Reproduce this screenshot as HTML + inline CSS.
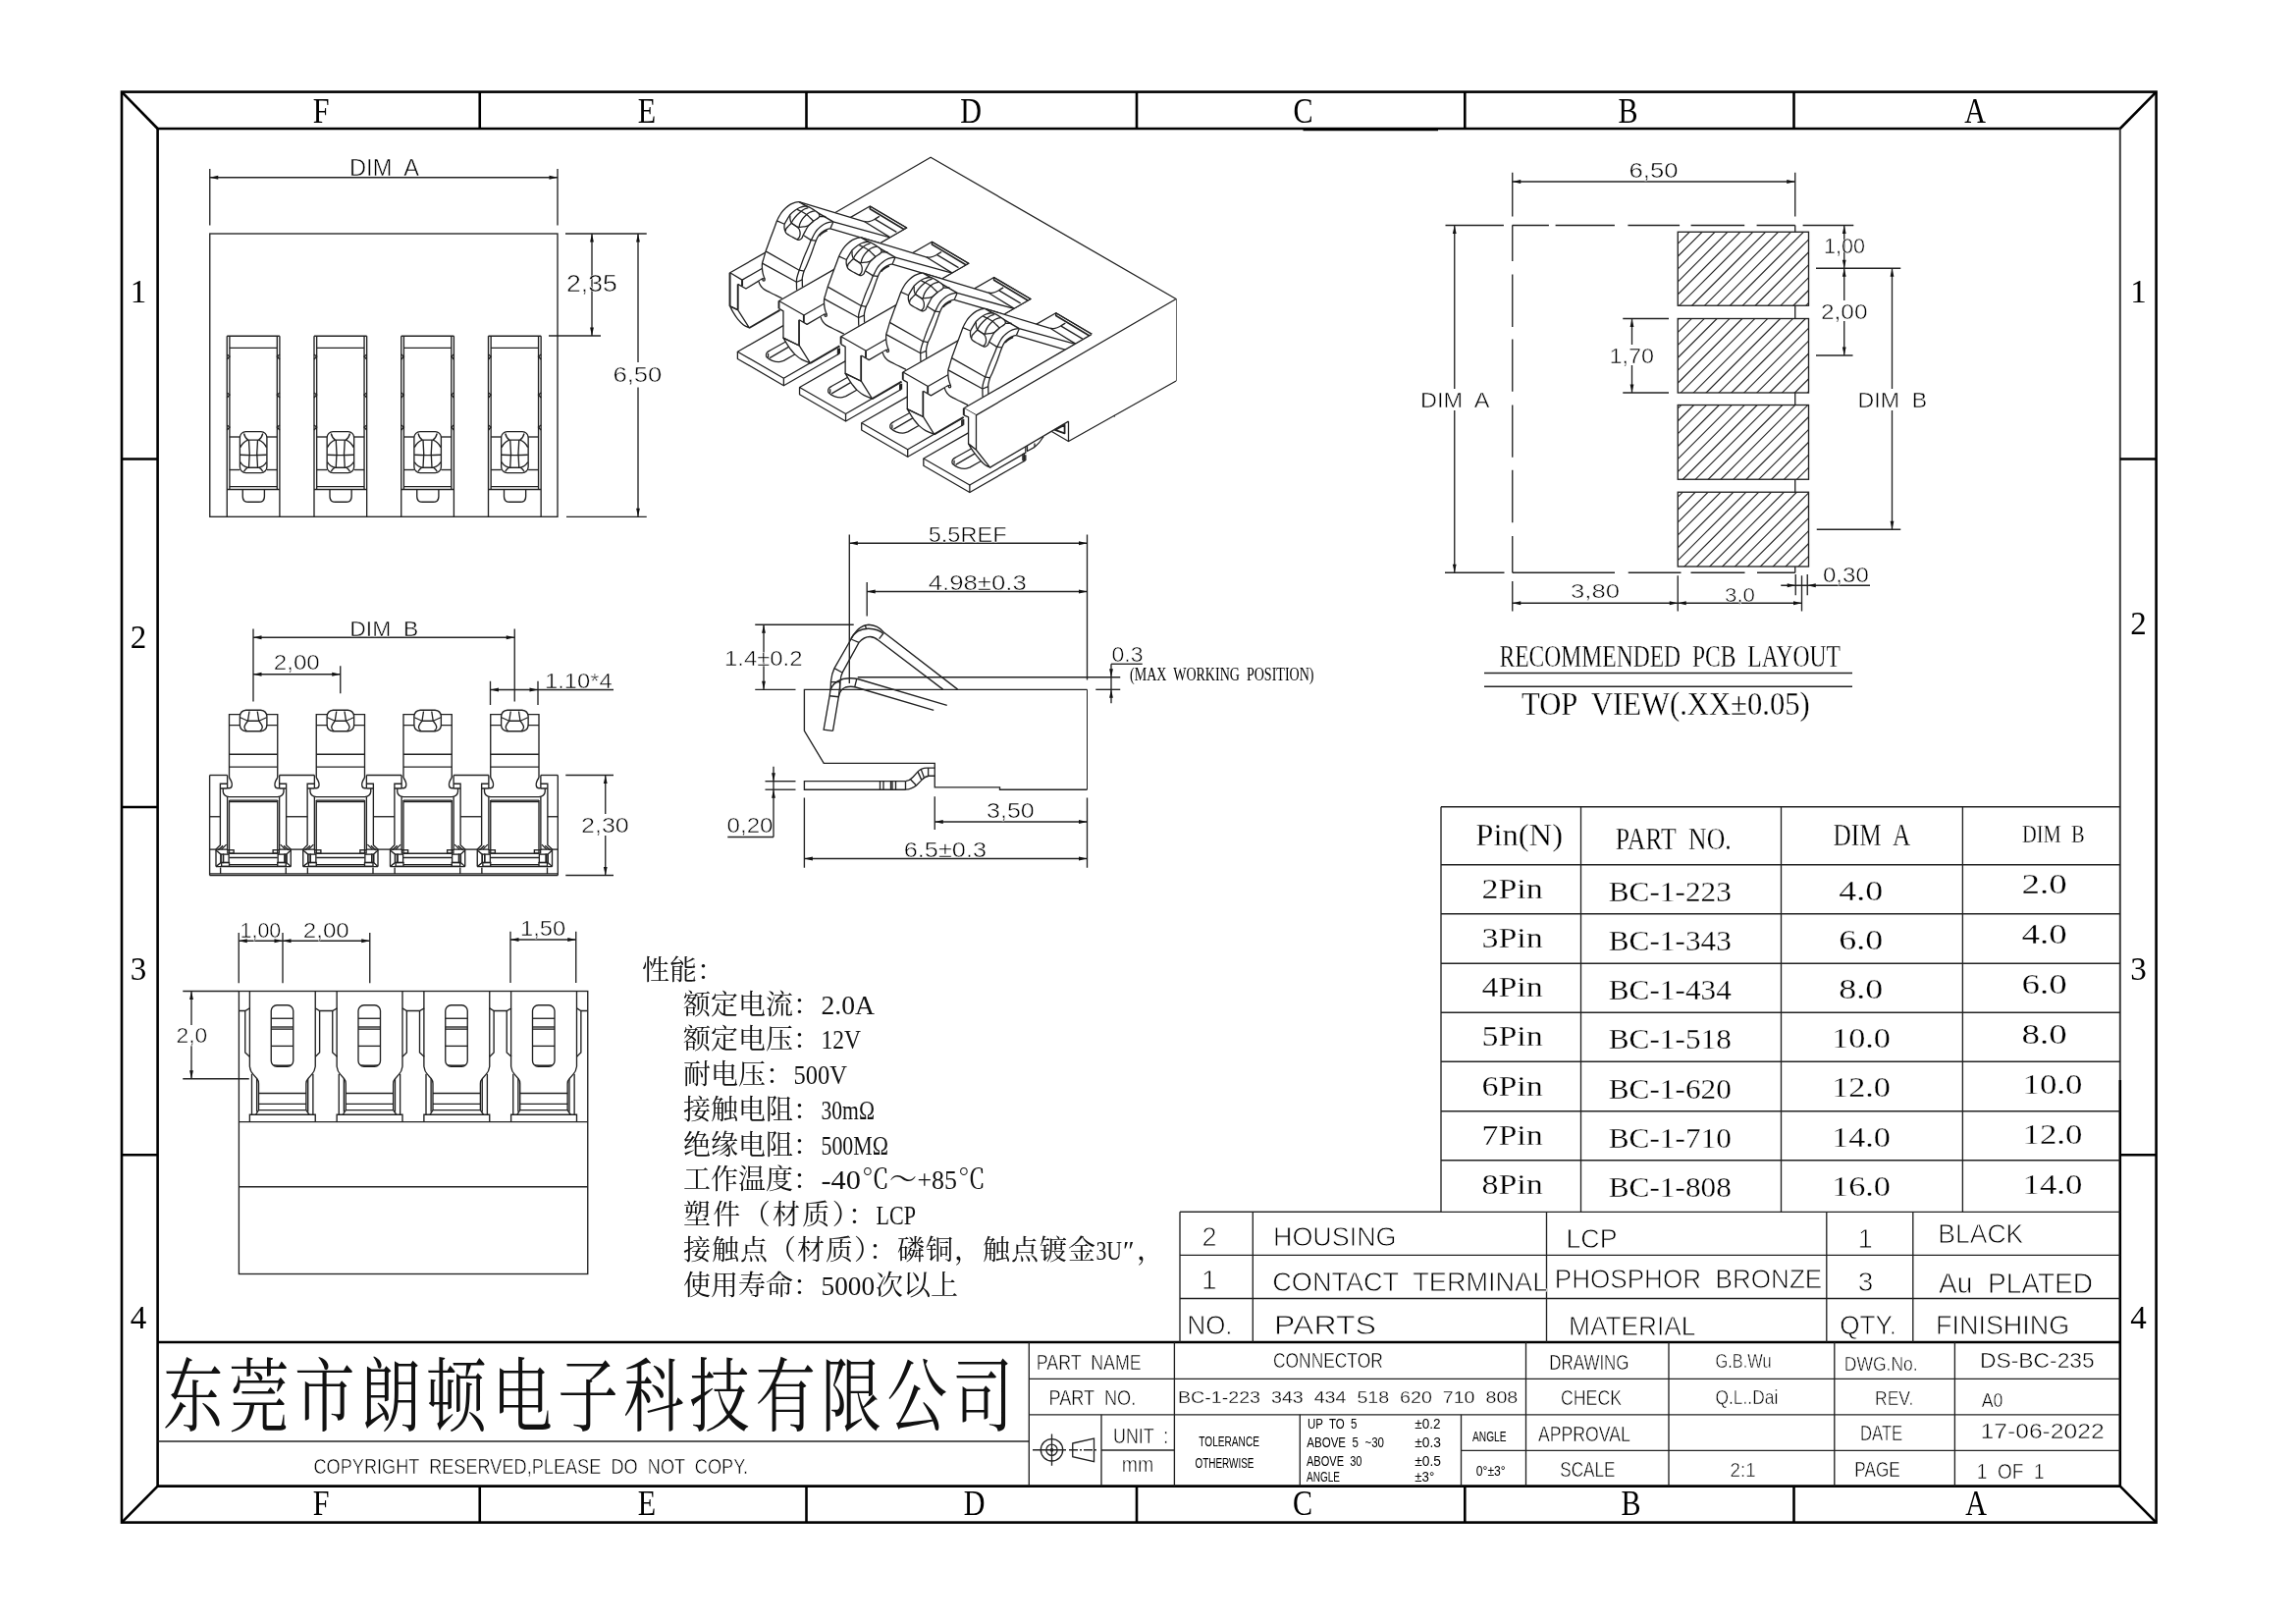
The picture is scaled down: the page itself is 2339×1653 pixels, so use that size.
<!DOCTYPE html>
<html><head><meta charset="utf-8"><title>BC-1 Battery Connector Drawing</title>
<style>
html,body{margin:0;padding:0;background:#fff}
svg{display:block;filter:grayscale(1)}
.s{word-spacing:.28em;font-family:"Liberation Sans","DejaVu Sans",sans-serif;fill:#000;stroke:#fff;stroke-width:.55px;paint-order:fill stroke}
.r{word-spacing:.25em;font-family:"Liberation Serif","Noto Serif CJK SC",serif;fill:#000;stroke:#fff;stroke-width:.3px;paint-order:fill stroke}
.c{font-family:"Liberation Serif","Noto Serif CJK SC",serif;fill:#111;stroke:none}
.f{font-family:"Liberation Serif","DejaVu Serif",serif;fill:#000;stroke:none}
.ar{fill:#111;stroke:none}
text{white-space:pre}
</style></head><body>
<svg width="2339" height="1653" viewBox="0 0 2339 1653" fill="none" stroke="#222" stroke-width="1.35" stroke-linecap="butt" stroke-linejoin="miter">
<rect x="0" y="0" width="2339" height="1653" fill="#fff" stroke="none"/>
<g stroke="#000" stroke-width="2.6">
<rect x="124" y="93.6" width="2072.6" height="1457"/>
<polyline points="2159.8,131 160.6,131 160.6,1513.6 2159.8,1513.6 2159.8,1100"/>
<line x1="2159.8" y1="131" x2="2159.8" y2="1100" stroke-width="2" stroke="#3a3a3a"/>
<line x1="124" y1="93.6" x2="160.6" y2="131"/>
<line x1="2196.6" y1="93.6" x2="2159.8" y2="131"/>
<line x1="124" y1="1550.6" x2="160.6" y2="1513.6"/>
<line x1="2196.6" y1="1550.6" x2="2159.8" y2="1513.6"/>
<line x1="488.75" y1="93.6" x2="488.75" y2="131"/>
<line x1="488.75" y1="1513.6" x2="488.75" y2="1550.6"/>
<line x1="821.5" y1="93.6" x2="821.5" y2="131"/>
<line x1="821.5" y1="1513.6" x2="821.5" y2="1550.6"/>
<line x1="1158" y1="93.6" x2="1158" y2="131"/>
<line x1="1158" y1="1513.6" x2="1158" y2="1550.6"/>
<line x1="1492.3" y1="93.6" x2="1492.3" y2="131"/>
<line x1="1492.3" y1="1513.6" x2="1492.3" y2="1550.6"/>
<line x1="1827.5" y1="93.6" x2="1827.5" y2="131"/>
<line x1="1827.5" y1="1513.6" x2="1827.5" y2="1550.6"/>
<line x1="124" y1="467.5" x2="160.6" y2="467.5"/>
<line x1="124" y1="822" x2="160.6" y2="822"/>
<line x1="124" y1="1176.3" x2="160.6" y2="1176.3"/>
<line x1="2159.8" y1="467.5" x2="2196.6" y2="467.5"/>
<line x1="2159.8" y1="1176.3" x2="2196.6" y2="1176.3"/>
<line x1="160.6" y1="1367" x2="2159.8" y2="1367"/>
<line x1="1327.5" y1="131.6" x2="1465" y2="131.6" stroke-width="3.2"/>
</g>
<text class="f" transform="translate(327 124.5) scale(.86 1)" font-size="35" text-anchor="middle">F</text>
<text class="f" transform="translate(327 1543) scale(.86 1)" font-size="35" text-anchor="middle">F</text>
<text class="f" transform="translate(659 124.5) scale(.86 1)" font-size="35" text-anchor="middle">E</text>
<text class="f" transform="translate(659 1543) scale(.86 1)" font-size="35" text-anchor="middle">E</text>
<text class="f" transform="translate(989 124.5) scale(.86 1)" font-size="35" text-anchor="middle">D</text>
<text class="f" transform="translate(992.5 1543) scale(.86 1)" font-size="35" text-anchor="middle">D</text>
<text class="f" transform="translate(1327.5 124.5) scale(.86 1)" font-size="35" text-anchor="middle">C</text>
<text class="f" transform="translate(1327 1543) scale(.86 1)" font-size="35" text-anchor="middle">C</text>
<text class="f" transform="translate(1658.5 124.5) scale(.86 1)" font-size="35" text-anchor="middle">B</text>
<text class="f" transform="translate(1661.5 1543) scale(.86 1)" font-size="35" text-anchor="middle">B</text>
<text class="f" transform="translate(2012 124.5) scale(.86 1)" font-size="35" text-anchor="middle">A</text>
<text class="f" transform="translate(2013 1543) scale(.86 1)" font-size="35" text-anchor="middle">A</text>
<text class="f" x="141" y="308" font-size="33" text-anchor="middle">1</text>
<text class="f" x="2178.5" y="308" font-size="33" text-anchor="middle">1</text>
<text class="f" x="141" y="659.5" font-size="33" text-anchor="middle">2</text>
<text class="f" x="2178.5" y="646" font-size="33" text-anchor="middle">2</text>
<text class="f" x="141" y="998" font-size="33" text-anchor="middle">3</text>
<text class="f" x="2178.5" y="998" font-size="33" text-anchor="middle">3</text>
<text class="f" x="141" y="1352.5" font-size="33" text-anchor="middle">4</text>
<text class="f" x="2178.5" y="1352.5" font-size="33" text-anchor="middle">4</text>
<text class="c" transform="translate(166,1450.5) scale(1,1.335)" x="0" y="0" font-size="61.5" textLength="866" lengthAdjust="spacing">东莞市朗顿电子科技有限公司</text>
<line x1="160.6" y1="1468" x2="1048.3" y2="1468"/>
<text class="s" x="319.5" y="1500.75" font-size="22.35" textLength="442.5" lengthAdjust="spacingAndGlyphs" style="stroke-width:0.5px">COPYRIGHT RESERVED,PLEASE DO NOT COPY.</text>
<line x1="1048.3" y1="1367" x2="1048.3" y2="1513.6"/>
<line x1="1196.4" y1="1367" x2="1196.4" y2="1513.6"/>
<line x1="1554.5" y1="1367" x2="1554.5" y2="1513.6"/>
<line x1="1700" y1="1367" x2="1700" y2="1513.6"/>
<line x1="1868.8" y1="1367" x2="1868.8" y2="1513.6"/>
<line x1="1991.4" y1="1367" x2="1991.4" y2="1513.6"/>
<line x1="1048.3" y1="1404.3" x2="2159.8" y2="1404.3"/>
<line x1="1048.3" y1="1440.8" x2="2159.8" y2="1440.8"/>
<line x1="1488.5" y1="1477.3" x2="2159.8" y2="1477.3"/>
<line x1="1122" y1="1440.8" x2="1122" y2="1513.6"/>
<line x1="1122" y1="1477" x2="1196.4" y2="1477"/>
<line x1="1324.3" y1="1440.8" x2="1324.3" y2="1513.6"/>
<line x1="1488.5" y1="1440.8" x2="1488.5" y2="1513.6"/>
<text class="s" x="1055.75" y="1395" font-size="22.63" textLength="107" lengthAdjust="spacingAndGlyphs" style="stroke-width:0.5px">PART NAME</text>
<text class="s" x="1068.5" y="1430.5" font-size="22.63" textLength="88.75" lengthAdjust="spacingAndGlyphs" style="stroke-width:0.5px">PART NO.</text>
<text class="s" x="1134" y="1470" font-size="22.63" textLength="56.25" lengthAdjust="spacingAndGlyphs" style="stroke-width:0.5px">UNIT :</text>
<text class="s" x="1142.75" y="1498.75" font-size="22.63" textLength="32.5" lengthAdjust="spacingAndGlyphs" style="stroke-width:0.5px">mm</text>
<circle cx="1071.5" cy="1476.75" r="11.2"/>
<circle cx="1071.5" cy="1476.75" r="5.6"/>
<circle cx="1071.5" cy="1476.75" r="1.2" fill="#222"/>
<line x1="1052" y1="1476.75" x2="1086" y2="1476.75"/>
<line x1="1071.5" y1="1460.5" x2="1071.5" y2="1492.8"/>
<polygon points="1092.75,1470 1114.5,1465 1114.5,1488.75 1092.75,1483.75"/>
<line x1="1089" y1="1476.75" x2="1118" y2="1476.75" stroke-dasharray="9 2 2 2"/>
<text class="s" x="1297" y="1393.25" font-size="22.07" textLength="111.75" lengthAdjust="spacingAndGlyphs" style="stroke-width:0.5px">CONNECTOR</text>
<text class="s" x="1200" y="1429.25" font-size="17.18" textLength="346.25" lengthAdjust="spacingAndGlyphs" style="stroke-width:0.3px">BC-1-223 343 434 518 620 710 808</text>
<text class="s" x="1221.25" y="1473" font-size="14.66" textLength="61.75" lengthAdjust="spacingAndGlyphs" style="stroke:none">TOLERANCE</text>
<text class="s" x="1217.5" y="1495" font-size="14.66" textLength="60" lengthAdjust="spacingAndGlyphs" style="stroke:none">OTHERWISE</text>
<text class="s" x="1332" y="1455" font-size="14.66" textLength="50.5" lengthAdjust="spacingAndGlyphs" style="stroke:none">UP TO 5</text>
<text class="s" x="1331.25" y="1473.75" font-size="14.66" textLength="78.75" lengthAdjust="spacingAndGlyphs" style="stroke:none">ABOVE 5 ~30</text>
<text class="s" x="1331" y="1492.5" font-size="14.66" textLength="56.5" lengthAdjust="spacingAndGlyphs" style="stroke:none">ABOVE 30</text>
<text class="s" x="1331" y="1508.75" font-size="14.66" textLength="34" lengthAdjust="spacingAndGlyphs" style="stroke:none">ANGLE</text>
<text class="s" x="1441.25" y="1455" font-size="14.66" textLength="26.25" lengthAdjust="spacingAndGlyphs" style="stroke:none">±0.2</text>
<text class="s" x="1441.25" y="1473.75" font-size="14.66" textLength="26.75" lengthAdjust="spacingAndGlyphs" style="stroke:none">±0.3</text>
<text class="s" x="1441.25" y="1492.5" font-size="14.66" textLength="26.75" lengthAdjust="spacingAndGlyphs" style="stroke:none">±0.5</text>
<text class="s" x="1441.25" y="1508.75" font-size="14.66" textLength="20" lengthAdjust="spacingAndGlyphs" style="stroke:none">±3°</text>
<text class="s" x="1500" y="1468.25" font-size="14.39" textLength="34.5" lengthAdjust="spacingAndGlyphs" style="stroke:none">ANGLE</text>
<text class="s" x="1503.75" y="1502.5" font-size="14.66" textLength="30" lengthAdjust="spacingAndGlyphs" style="stroke:none">0°±3°</text>
<text class="s" x="1578.25" y="1395" font-size="22.63" textLength="81.25" lengthAdjust="spacingAndGlyphs" style="stroke-width:0.5px">DRAWING</text>
<text class="s" x="1590" y="1431.25" font-size="22.07" textLength="62" lengthAdjust="spacingAndGlyphs" style="stroke-width:0.5px">CHECK</text>
<text class="s" x="1567" y="1467.5" font-size="22.63" textLength="93.75" lengthAdjust="spacingAndGlyphs" style="stroke-width:0.5px">APPROVAL</text>
<text class="s" x="1589.25" y="1504.25" font-size="22.63" textLength="56.25" lengthAdjust="spacingAndGlyphs" style="stroke-width:0.5px">SCALE</text>
<text class="s" x="1747.5" y="1393.25" font-size="20.25" textLength="57" lengthAdjust="spacingAndGlyphs" style="stroke-width:0.5px">G.B.Wu</text>
<text class="s" x="1747.5" y="1429.5" font-size="20.25" textLength="63.75" lengthAdjust="spacingAndGlyphs" style="stroke-width:0.5px">Q.L..Dai</text>
<text class="s" x="1762.5" y="1503.75" font-size="20.95" textLength="26.25" lengthAdjust="spacingAndGlyphs" style="stroke-width:0.5px">2:1</text>
<text class="s" x="1878.75" y="1396.25" font-size="20.95" textLength="75" lengthAdjust="spacingAndGlyphs" style="stroke-width:0.5px">DWG.No.</text>
<text class="s" x="1910" y="1431.25" font-size="20.95" textLength="39.25" lengthAdjust="spacingAndGlyphs" style="stroke-width:0.5px">REV.</text>
<text class="s" x="1895" y="1467" font-size="21.93" textLength="43.25" lengthAdjust="spacingAndGlyphs" style="stroke-width:0.5px">DATE</text>
<text class="s" x="1889.25" y="1503.75" font-size="21.93" textLength="46.5" lengthAdjust="spacingAndGlyphs" style="stroke-width:0.5px">PAGE</text>
<text class="s" x="2017" y="1393.25" font-size="21.93" textLength="116.75" lengthAdjust="spacingAndGlyphs" style="stroke-width:0.5px">DS-BC-235</text>
<text class="s" x="2018.75" y="1432.5" font-size="20.95" textLength="21.75" lengthAdjust="spacingAndGlyphs" style="stroke-width:0.5px">A0</text>
<text class="s" x="2017.5" y="1465" font-size="21.65" textLength="126.25" lengthAdjust="spacingAndGlyphs" style="stroke-width:0.5px">17-06-2022</text>
<text class="s" x="2013.75" y="1506.25" font-size="21.93" textLength="68.75" lengthAdjust="spacingAndGlyphs" style="stroke-width:0.5px">1 OF 1</text>
<line x1="1202" y1="1234.3" x2="1202" y2="1367"/>
<line x1="1276.3" y1="1234.3" x2="1276.3" y2="1367"/>
<line x1="1575.5" y1="1234.3" x2="1575.5" y2="1367"/>
<line x1="1860.8" y1="1234.3" x2="1860.8" y2="1367"/>
<line x1="1948.8" y1="1234.3" x2="1948.8" y2="1367"/>
<line x1="1202" y1="1234.3" x2="2159.8" y2="1234.3"/>
<line x1="1202" y1="1278.3" x2="2159.8" y2="1278.3"/>
<line x1="1202" y1="1322.5" x2="2159.8" y2="1322.5"/>
<text class="s" x="1232.12" y="1269.25" font-size="26.96" text-anchor="middle" style="stroke-width:0.8px">2</text>
<text class="s" x="1297" y="1269.25" font-size="26.96" textLength="125.5" lengthAdjust="spacingAndGlyphs" style="stroke-width:0.8px">HOUSING</text>
<text class="s" x="1595.5" y="1271.25" font-size="27.93" textLength="52" lengthAdjust="spacingAndGlyphs" style="stroke-width:0.8px">LCP</text>
<text class="s" x="1231.75" y="1313.25" font-size="27.93" text-anchor="middle" style="stroke-width:0.8px">1</text>
<text class="s" x="1296.25" y="1315" font-size="27.93" textLength="280" lengthAdjust="spacingAndGlyphs" style="stroke-width:0.8px">CONTACT TERMINAL</text>
<text class="s" x="1583.75" y="1311.5" font-size="26.96" textLength="272.5" lengthAdjust="spacingAndGlyphs" style="stroke-width:0.8px">PHOSPHOR BRONZE</text>
<text class="s" x="1209.5" y="1358.75" font-size="27.93" textLength="46" lengthAdjust="spacingAndGlyphs" style="stroke-width:0.8px">NO.</text>
<text class="s" x="1298" y="1358.75" font-size="27.93" textLength="104" lengthAdjust="spacingAndGlyphs" style="stroke-width:0.8px">PARTS</text>
<text class="s" x="1598" y="1360" font-size="27.93" textLength="129.5" lengthAdjust="spacingAndGlyphs" style="stroke-width:0.8px">MATERIAL</text>
<text class="s" x="1900.25" y="1270.5" font-size="26.96" text-anchor="middle" style="stroke-width:0.8px">1</text>
<text class="s" x="1974.25" y="1266.25" font-size="26.96" textLength="87" lengthAdjust="spacingAndGlyphs" style="stroke-width:0.8px">BLACK</text>
<text class="s" x="1900.62" y="1315" font-size="27.93" text-anchor="middle" style="stroke-width:0.8px">3</text>
<text class="s" x="1975" y="1316.75" font-size="28.63" textLength="157" lengthAdjust="spacingAndGlyphs" style="stroke-width:0.8px">Au PLATED</text>
<text class="s" x="1874.25" y="1358.75" font-size="27.93" textLength="57.75" lengthAdjust="spacingAndGlyphs" style="stroke-width:0.8px">QTY.</text>
<text class="s" x="1972" y="1358.75" font-size="27.93" textLength="136.25" lengthAdjust="spacingAndGlyphs" style="stroke-width:0.8px">FINISHING</text>
<line x1="1468" y1="821.75" x2="1468" y2="1234.3"/>
<line x1="1610.5" y1="821.75" x2="1610.5" y2="1234.3"/>
<line x1="1814.5" y1="821.75" x2="1814.5" y2="1234.3"/>
<line x1="1999.4" y1="821.75" x2="1999.4" y2="1234.3"/>
<line x1="1468" y1="821.75" x2="2159.8" y2="821.75"/>
<line x1="1468" y1="880.75" x2="2159.8" y2="880.75"/>
<line x1="1468" y1="930.75" x2="2159.8" y2="930.75"/>
<line x1="1468" y1="981.25" x2="2159.8" y2="981.25"/>
<line x1="1468" y1="1031.25" x2="2159.8" y2="1031.25"/>
<line x1="1468" y1="1081.25" x2="2159.8" y2="1081.25"/>
<line x1="1468" y1="1131.75" x2="2159.8" y2="1131.75"/>
<line x1="1468" y1="1181.75" x2="2159.8" y2="1181.75"/>
<line x1="1468" y1="1234.3" x2="1202" y2="1234.3"/>
<text class="r" x="1503.25" y="860.75" font-size="30.53" textLength="88.75" lengthAdjust="spacingAndGlyphs" style="stroke-width:0.3px">Pin(N)</text>
<text class="r" x="1645.75" y="865" font-size="30.53" textLength="118" lengthAdjust="spacingAndGlyphs" style="stroke-width:0.3px">PART NO.</text>
<text class="r" x="1867.5" y="860.75" font-size="30.53" textLength="78.75" lengthAdjust="spacingAndGlyphs" style="stroke-width:0.3px">DIM A</text>
<text class="r" x="2060" y="857.5" font-size="24.89" textLength="63.75" lengthAdjust="spacingAndGlyphs" style="stroke-width:0.3px">DIM B</text>
<text class="r" x="1509.5" y="914.5" font-size="30.08" textLength="62.25" lengthAdjust="spacingAndGlyphs" style="stroke-width:0.3px">2Pin</text>
<text class="r" x="1638.75" y="917.5" font-size="30.08" textLength="125" lengthAdjust="spacingAndGlyphs" style="stroke-width:0.3px">BC-1-223</text>
<text class="r" x="1873.25" y="916.5" font-size="30.08" textLength="45" lengthAdjust="spacingAndGlyphs" style="stroke-width:0.3px">4.0</text>
<text class="r" x="2059.5" y="910" font-size="30.08" textLength="46.25" lengthAdjust="spacingAndGlyphs" style="stroke-width:0.3px">2.0</text>
<text class="r" x="1509.5" y="964.75" font-size="30.08" textLength="62.25" lengthAdjust="spacingAndGlyphs" style="stroke-width:0.3px">3Pin</text>
<text class="r" x="1638.75" y="967.75" font-size="30.08" textLength="125" lengthAdjust="spacingAndGlyphs" style="stroke-width:0.3px">BC-1-343</text>
<text class="r" x="1873.25" y="966.7" font-size="30.08" textLength="45" lengthAdjust="spacingAndGlyphs" style="stroke-width:0.3px">6.0</text>
<text class="r" x="2059.5" y="961.05" font-size="30.08" textLength="46.25" lengthAdjust="spacingAndGlyphs" style="stroke-width:0.3px">4.0</text>
<text class="r" x="1509.5" y="1015" font-size="30.08" textLength="62.25" lengthAdjust="spacingAndGlyphs" style="stroke-width:0.3px">4Pin</text>
<text class="r" x="1638.75" y="1018" font-size="30.08" textLength="125" lengthAdjust="spacingAndGlyphs" style="stroke-width:0.3px">BC-1-434</text>
<text class="r" x="1873.25" y="1016.9" font-size="30.08" textLength="45" lengthAdjust="spacingAndGlyphs" style="stroke-width:0.3px">8.0</text>
<text class="r" x="2059.5" y="1012.1" font-size="30.08" textLength="46.25" lengthAdjust="spacingAndGlyphs" style="stroke-width:0.3px">6.0</text>
<text class="r" x="1509.5" y="1065.25" font-size="30.08" textLength="62.25" lengthAdjust="spacingAndGlyphs" style="stroke-width:0.3px">5Pin</text>
<text class="r" x="1638.75" y="1068.25" font-size="30.08" textLength="125" lengthAdjust="spacingAndGlyphs" style="stroke-width:0.3px">BC-1-518</text>
<text class="r" x="1866" y="1067.1" font-size="30.08" textLength="60" lengthAdjust="spacingAndGlyphs" style="stroke-width:0.3px">10.0</text>
<text class="r" x="2059.5" y="1063.15" font-size="30.08" textLength="46.25" lengthAdjust="spacingAndGlyphs" style="stroke-width:0.3px">8.0</text>
<text class="r" x="1509.5" y="1115.5" font-size="30.08" textLength="62.25" lengthAdjust="spacingAndGlyphs" style="stroke-width:0.3px">6Pin</text>
<text class="r" x="1638.75" y="1118.5" font-size="30.08" textLength="125" lengthAdjust="spacingAndGlyphs" style="stroke-width:0.3px">BC-1-620</text>
<text class="r" x="1866" y="1117.3" font-size="30.08" textLength="60" lengthAdjust="spacingAndGlyphs" style="stroke-width:0.3px">12.0</text>
<text class="r" x="2060.5" y="1114.2" font-size="30.08" textLength="61" lengthAdjust="spacingAndGlyphs" style="stroke-width:0.3px">10.0</text>
<text class="r" x="1509.5" y="1165.75" font-size="30.08" textLength="62.25" lengthAdjust="spacingAndGlyphs" style="stroke-width:0.3px">7Pin</text>
<text class="r" x="1638.75" y="1168.75" font-size="30.08" textLength="125" lengthAdjust="spacingAndGlyphs" style="stroke-width:0.3px">BC-1-710</text>
<text class="r" x="1866" y="1167.5" font-size="30.08" textLength="60" lengthAdjust="spacingAndGlyphs" style="stroke-width:0.3px">14.0</text>
<text class="r" x="2060.5" y="1165.25" font-size="30.08" textLength="61" lengthAdjust="spacingAndGlyphs" style="stroke-width:0.3px">12.0</text>
<text class="r" x="1509.5" y="1216" font-size="30.08" textLength="62.25" lengthAdjust="spacingAndGlyphs" style="stroke-width:0.3px">8Pin</text>
<text class="r" x="1638.75" y="1219" font-size="30.08" textLength="125" lengthAdjust="spacingAndGlyphs" style="stroke-width:0.3px">BC-1-808</text>
<text class="r" x="1866" y="1217.7" font-size="30.08" textLength="60" lengthAdjust="spacingAndGlyphs" style="stroke-width:0.3px">16.0</text>
<text class="r" x="2060.5" y="1216.3" font-size="30.08" textLength="61" lengthAdjust="spacingAndGlyphs" style="stroke-width:0.3px">14.0</text>
<text class="c" x="654" y="997.5" font-size="28" textLength="84" lengthAdjust="spacing">性能：</text>
<text class="c" x="696" y="1032.5" font-size="28" textLength="140" lengthAdjust="spacing">额定电流：</text>
<text class="c" x="836.5" y="1032.5" font-size="28" textLength="54.5" lengthAdjust="spacingAndGlyphs">2.0A</text>
<text class="c" x="696" y="1068.25" font-size="28" textLength="140" lengthAdjust="spacing">额定电压：</text>
<text class="c" x="836.5" y="1068.25" font-size="28" textLength="40.5" lengthAdjust="spacingAndGlyphs">12V</text>
<text class="c" x="696" y="1104" font-size="28" textLength="112" lengthAdjust="spacing">耐电压：</text>
<text class="c" x="808.5" y="1104" font-size="28" textLength="54.5" lengthAdjust="spacingAndGlyphs">500V</text>
<text class="c" x="696" y="1139.75" font-size="28" textLength="140" lengthAdjust="spacing">接触电阻：</text>
<text class="c" x="836.5" y="1139.75" font-size="28" textLength="54.5" lengthAdjust="spacingAndGlyphs">30mΩ</text>
<text class="c" x="696" y="1175.5" font-size="28" textLength="140" lengthAdjust="spacing">绝缘电阻：</text>
<text class="c" x="836.5" y="1175.5" font-size="28" textLength="68.5" lengthAdjust="spacingAndGlyphs">500MΩ</text>
<text class="c" x="696" y="1211.25" font-size="28" textLength="140" lengthAdjust="spacing">工作温度：</text>
<text class="c" x="836.5" y="1211.25" font-size="28" textLength="40.5" lengthAdjust="spacingAndGlyphs">-40</text>
<text class="c" x="878" y="1211.25" font-size="28" textLength="56" lengthAdjust="spacing">℃～</text>
<text class="c" x="934.5" y="1211.25" font-size="28" textLength="40.5" lengthAdjust="spacingAndGlyphs">+85</text>
<text class="c" x="976" y="1211.25" font-size="28" textLength="28" lengthAdjust="spacing">℃</text>
<text class="c" x="696" y="1247" font-size="28" textLength="196" lengthAdjust="spacing">塑件（材质）：</text>
<text class="c" x="892.5" y="1247" font-size="28" textLength="40.5" lengthAdjust="spacingAndGlyphs">LCP</text>
<text class="c" x="696" y="1282.75" font-size="28" textLength="420" lengthAdjust="spacing">接触点（材质）：磷铜，触点镀金</text>
<text class="c" x="1116.5" y="1282.75" font-size="28" textLength="26.5" lengthAdjust="spacingAndGlyphs">3U</text>
<text class="c" x="1144" y="1282.75" font-size="28" textLength="42" lengthAdjust="spacing">″，</text>
<text class="c" x="696" y="1318.5" font-size="28" textLength="140" lengthAdjust="spacing">使用寿命：</text>
<text class="c" x="836.5" y="1318.5" font-size="28" textLength="54.5" lengthAdjust="spacingAndGlyphs">5000</text>
<text class="c" x="892" y="1318.5" font-size="28" textLength="84" lengthAdjust="spacing">次以上</text>
<rect x="213.75" y="238" width="354.25" height="288.3"/>
<g transform="translate(0 0)">
<line x1="231.25" y1="342.2" x2="231.25" y2="526.3"/>
<line x1="284.9" y1="342.2" x2="284.9" y2="526.3"/>
<line x1="233.9" y1="342.2" x2="233.9" y2="498.5"/>
<line x1="282.3" y1="342.2" x2="282.3" y2="498.5"/>
<line x1="231.25" y1="342.2" x2="284.9" y2="342.2"/>
<line x1="233.9" y1="354.4" x2="282.3" y2="354.4"/>
<polyline points="231.25,361 233.9,363 231.25,366"/>
<polyline points="284.9,361 282.3,363 284.9,366"/>
<polyline points="231.25,400 233.9,402 231.25,405"/>
<polyline points="284.9,400 282.3,402 284.9,405"/>
<polyline points="231.25,433 233.9,435 231.25,438"/>
<polyline points="284.9,433 282.3,435 284.9,438"/>
<line x1="233.9" y1="445" x2="244.4" y2="445"/>
<line x1="271.9" y1="445" x2="282.3" y2="445"/>
<line x1="233.9" y1="478.5" x2="244.4" y2="478.5"/>
<line x1="271.9" y1="478.5" x2="282.3" y2="478.5"/>
<rect x="244.4" y="439.6" width="27.5" height="42" rx="6"/>
<path d="M248.5 441.5 Q249.75 446.25 252.75 448.12 L263.5 448.12 Q266.5 446.25 267.75 441.5"/>
<path d="M248.5 480.25 Q249.75 477.75 252.25 476.25 L264 476.25 Q266.5 477.75 267.75 480.25"/>
<path d="M244.75 463.25 Q258.12 464 271.5 463.25"/>
<path d="M253.5 448.12 Q255 462.5 253.5 476.25"/>
<path d="M262.5 448.12 Q261 462.5 262.5 476.25"/>
<path d="M244.75 455.62 Q247.5 450 252.75 448.12"/>
<path d="M271.5 455.62 Q268.75 450 263.5 448.12"/>
<path d="M244.75 470.62 Q247.5 475 252.25 476.25"/>
<path d="M271.5 470.62 Q268.75 475 264 476.25"/>
<line x1="233.9" y1="495.6" x2="282.3" y2="495.6"/>
<line x1="231.25" y1="498.5" x2="284.9" y2="498.5"/>
<path d="M247.25 498.5 V505.7 Q247.25 511.25 252.8 511.25 H263.9 Q269.4 511.25 269.4 505.7 V498.5"/>
</g>
<g transform="translate(88.75 0)">
<line x1="231.25" y1="342.2" x2="231.25" y2="526.3"/>
<line x1="284.9" y1="342.2" x2="284.9" y2="526.3"/>
<line x1="233.9" y1="342.2" x2="233.9" y2="498.5"/>
<line x1="282.3" y1="342.2" x2="282.3" y2="498.5"/>
<line x1="231.25" y1="342.2" x2="284.9" y2="342.2"/>
<line x1="233.9" y1="354.4" x2="282.3" y2="354.4"/>
<polyline points="231.25,361 233.9,363 231.25,366"/>
<polyline points="284.9,361 282.3,363 284.9,366"/>
<polyline points="231.25,400 233.9,402 231.25,405"/>
<polyline points="284.9,400 282.3,402 284.9,405"/>
<polyline points="231.25,433 233.9,435 231.25,438"/>
<polyline points="284.9,433 282.3,435 284.9,438"/>
<line x1="233.9" y1="445" x2="244.4" y2="445"/>
<line x1="271.9" y1="445" x2="282.3" y2="445"/>
<line x1="233.9" y1="478.5" x2="244.4" y2="478.5"/>
<line x1="271.9" y1="478.5" x2="282.3" y2="478.5"/>
<rect x="244.4" y="439.6" width="27.5" height="42" rx="6"/>
<path d="M248.5 441.5 Q249.75 446.25 252.75 448.12 L263.5 448.12 Q266.5 446.25 267.75 441.5"/>
<path d="M248.5 480.25 Q249.75 477.75 252.25 476.25 L264 476.25 Q266.5 477.75 267.75 480.25"/>
<path d="M244.75 463.25 Q258.12 464 271.5 463.25"/>
<path d="M253.5 448.12 Q255 462.5 253.5 476.25"/>
<path d="M262.5 448.12 Q261 462.5 262.5 476.25"/>
<path d="M244.75 455.62 Q247.5 450 252.75 448.12"/>
<path d="M271.5 455.62 Q268.75 450 263.5 448.12"/>
<path d="M244.75 470.62 Q247.5 475 252.25 476.25"/>
<path d="M271.5 470.62 Q268.75 475 264 476.25"/>
<line x1="233.9" y1="495.6" x2="282.3" y2="495.6"/>
<line x1="231.25" y1="498.5" x2="284.9" y2="498.5"/>
<path d="M247.25 498.5 V505.7 Q247.25 511.25 252.8 511.25 H263.9 Q269.4 511.25 269.4 505.7 V498.5"/>
</g>
<g transform="translate(177.5 0)">
<line x1="231.25" y1="342.2" x2="231.25" y2="526.3"/>
<line x1="284.9" y1="342.2" x2="284.9" y2="526.3"/>
<line x1="233.9" y1="342.2" x2="233.9" y2="498.5"/>
<line x1="282.3" y1="342.2" x2="282.3" y2="498.5"/>
<line x1="231.25" y1="342.2" x2="284.9" y2="342.2"/>
<line x1="233.9" y1="354.4" x2="282.3" y2="354.4"/>
<polyline points="231.25,361 233.9,363 231.25,366"/>
<polyline points="284.9,361 282.3,363 284.9,366"/>
<polyline points="231.25,400 233.9,402 231.25,405"/>
<polyline points="284.9,400 282.3,402 284.9,405"/>
<polyline points="231.25,433 233.9,435 231.25,438"/>
<polyline points="284.9,433 282.3,435 284.9,438"/>
<line x1="233.9" y1="445" x2="244.4" y2="445"/>
<line x1="271.9" y1="445" x2="282.3" y2="445"/>
<line x1="233.9" y1="478.5" x2="244.4" y2="478.5"/>
<line x1="271.9" y1="478.5" x2="282.3" y2="478.5"/>
<rect x="244.4" y="439.6" width="27.5" height="42" rx="6"/>
<path d="M248.5 441.5 Q249.75 446.25 252.75 448.12 L263.5 448.12 Q266.5 446.25 267.75 441.5"/>
<path d="M248.5 480.25 Q249.75 477.75 252.25 476.25 L264 476.25 Q266.5 477.75 267.75 480.25"/>
<path d="M244.75 463.25 Q258.12 464 271.5 463.25"/>
<path d="M253.5 448.12 Q255 462.5 253.5 476.25"/>
<path d="M262.5 448.12 Q261 462.5 262.5 476.25"/>
<path d="M244.75 455.62 Q247.5 450 252.75 448.12"/>
<path d="M271.5 455.62 Q268.75 450 263.5 448.12"/>
<path d="M244.75 470.62 Q247.5 475 252.25 476.25"/>
<path d="M271.5 470.62 Q268.75 475 264 476.25"/>
<line x1="233.9" y1="495.6" x2="282.3" y2="495.6"/>
<line x1="231.25" y1="498.5" x2="284.9" y2="498.5"/>
<path d="M247.25 498.5 V505.7 Q247.25 511.25 252.8 511.25 H263.9 Q269.4 511.25 269.4 505.7 V498.5"/>
</g>
<g transform="translate(266.25 0)">
<line x1="231.25" y1="342.2" x2="231.25" y2="526.3"/>
<line x1="284.9" y1="342.2" x2="284.9" y2="526.3"/>
<line x1="233.9" y1="342.2" x2="233.9" y2="498.5"/>
<line x1="282.3" y1="342.2" x2="282.3" y2="498.5"/>
<line x1="231.25" y1="342.2" x2="284.9" y2="342.2"/>
<line x1="233.9" y1="354.4" x2="282.3" y2="354.4"/>
<polyline points="231.25,361 233.9,363 231.25,366"/>
<polyline points="284.9,361 282.3,363 284.9,366"/>
<polyline points="231.25,400 233.9,402 231.25,405"/>
<polyline points="284.9,400 282.3,402 284.9,405"/>
<polyline points="231.25,433 233.9,435 231.25,438"/>
<polyline points="284.9,433 282.3,435 284.9,438"/>
<line x1="233.9" y1="445" x2="244.4" y2="445"/>
<line x1="271.9" y1="445" x2="282.3" y2="445"/>
<line x1="233.9" y1="478.5" x2="244.4" y2="478.5"/>
<line x1="271.9" y1="478.5" x2="282.3" y2="478.5"/>
<rect x="244.4" y="439.6" width="27.5" height="42" rx="6"/>
<path d="M248.5 441.5 Q249.75 446.25 252.75 448.12 L263.5 448.12 Q266.5 446.25 267.75 441.5"/>
<path d="M248.5 480.25 Q249.75 477.75 252.25 476.25 L264 476.25 Q266.5 477.75 267.75 480.25"/>
<path d="M244.75 463.25 Q258.12 464 271.5 463.25"/>
<path d="M253.5 448.12 Q255 462.5 253.5 476.25"/>
<path d="M262.5 448.12 Q261 462.5 262.5 476.25"/>
<path d="M244.75 455.62 Q247.5 450 252.75 448.12"/>
<path d="M271.5 455.62 Q268.75 450 263.5 448.12"/>
<path d="M244.75 470.62 Q247.5 475 252.25 476.25"/>
<path d="M271.5 470.62 Q268.75 475 264 476.25"/>
<line x1="233.9" y1="495.6" x2="282.3" y2="495.6"/>
<line x1="231.25" y1="498.5" x2="284.9" y2="498.5"/>
<path d="M247.25 498.5 V505.7 Q247.25 511.25 252.8 511.25 H263.9 Q269.4 511.25 269.4 505.7 V498.5"/>
</g>
<line x1="213.75" y1="172" x2="213.75" y2="229.5"/>
<line x1="568" y1="172" x2="568" y2="229.5"/>
<line x1="213.75" y1="180.75" x2="568" y2="180.75"/>
<polygon class="ar" points="213.75,180.75 222.25,178.85 222.25,182.65"/>
<polygon class="ar" points="568,180.75 559.5,178.85 559.5,182.65"/>
<text class="s" x="356" y="179" font-size="23.04" textLength="71" lengthAdjust="spacingAndGlyphs" style="stroke-width:0.5px">DIM A</text>
<line x1="576" y1="238" x2="658.75" y2="238"/>
<line x1="559" y1="342" x2="612" y2="342"/>
<line x1="577" y1="526.3" x2="658.75" y2="526.3"/>
<line x1="603" y1="238" x2="603" y2="342"/>
<polygon class="ar" points="603,238 601.1,246.5 604.9,246.5"/>
<polygon class="ar" points="603,342 601.1,333.5 604.9,333.5"/>
<text class="s" x="577" y="297" font-size="23.04" textLength="51.75" lengthAdjust="spacingAndGlyphs" style="stroke-width:0.5px">2,35</text>
<line x1="650" y1="238" x2="650" y2="369"/>
<line x1="650" y1="394.5" x2="650" y2="526.3"/>
<polygon class="ar" points="650,238 648.1,246.5 651.9,246.5"/>
<polygon class="ar" points="650,526.3 648.1,517.8 651.9,517.8"/>
<text class="s" x="624.4" y="388.5" font-size="22.77" textLength="50" lengthAdjust="spacingAndGlyphs" style="stroke-width:0.5px">6,50</text>
<line x1="213.6" y1="789.5" x2="213.6" y2="891.5"/>
<line x1="568.3" y1="789.5" x2="568.3" y2="891.5"/>
<line x1="213.6" y1="891.5" x2="568.3" y2="891.5"/>
<line x1="213.6" y1="889.8" x2="568.3" y2="889.8"/>
<g transform="translate(0 0)">
<path d="M233.5 792 V727.62 H244.75 M271.5 727.62 H282.75 V792"/>
<path d="M233.5 738.62 H244.75 M271.5 738.62 H282.75"/>
<line x1="233.5" y1="768.25" x2="282.75" y2="768.25"/>
<line x1="233.5" y1="781.12" x2="282.75" y2="781.12"/>
<path d="M244.38 729.5 Q244.75 723.88 250.62 723.25 L265.62 723.25 Q271.5 723.88 271.88 729.5 L271.88 738.88 Q271.25 744.25 265.62 744.75 L250.62 744.75 Q245 744.25 244.38 738.88 Z"/>
<path d="M254 724.5 L252.5 734.25 L263.75 734.25 L262.25 724.5"/>
<path d="M244.75 730.75 L252.5 734.25 M271.5 730.75 L263.75 734.25"/>
<path d="M252.5 734.25 Q248.75 738.88 249 741 Q249.38 743.25 251.5 744.5 M263.75 734.25 Q267.5 738.88 267.25 741 Q266.88 743.25 264.75 744.5"/>
<path d="M233.5 792 Q236.88 797 236.25 800.12 Q235.75 802.75 233.5 802.75 L231.62 802.75"/>
<path d="M282.75 792 Q279.38 797 280 800.12 Q280.5 802.75 282.75 802.75 L284.62 802.75"/>
<path d="M224.38 803 H231.62 M284.62 803 H291.62"/>
<path d="M227.25 803 V806.38 Q227.75 811 233.5 811.62 L282.75 811.62 Q288.5 811 289 806.38 V803"/>
<path d="M231.62 798.25 H224.38 V860.75 L220 865.12 V882.62"/>
<path d="M284.62 798.25 H291.62 V860.75 L296.25 865.12 V882.62"/>
<line x1="231.62" y1="789.5" x2="231.62" y2="803"/>
<line x1="284.62" y1="789.5" x2="284.62" y2="803"/>
<line x1="231.62" y1="811.62" x2="231.62" y2="866"/>
<line x1="284.62" y1="811.62" x2="284.62" y2="866"/>
<line x1="233.5" y1="815.12" x2="233.5" y2="869.25"/>
<line x1="282.75" y1="815.12" x2="282.75" y2="869.25"/>
<line x1="233.5" y1="815.12" x2="282.75" y2="815.12"/>
<line x1="233.5" y1="816.5" x2="282.75" y2="816.5" stroke-width="1.6"/>
<path d="M227.25 861.38 L221.88 866 M289 861.38 L294.38 866"/>
<path d="M230.62 860.12 L225.62 865.12 M285.62 860.12 L290.62 865.12"/>
<rect x="231.88" y="865.75" width="6.25" height="3.25"/>
<rect x="278.12" y="865.75" width="6.25" height="3.25"/>
<line x1="233.5" y1="869.25" x2="282.75" y2="869.25"/>
<line x1="233.5" y1="873.5" x2="282.75" y2="873.5"/>
<rect x="227.5" y="870.12" width="5.62" height="8.38"/>
<rect x="283.12" y="870.12" width="6.88" height="8.38"/>
<rect x="225" y="870.12" width="2.5" height="8.38"/>
<rect x="290" y="870.12" width="1.88" height="8.38"/>
<line x1="220" y1="882.62" x2="296.25" y2="882.62"/>
<line x1="233.5" y1="880.75" x2="282.75" y2="880.75"/>
<path d="M220 866 L225 870.12 L225 878.5 M296.25 866 L291.88 870.12 L291.88 878.5"/>
<path d="M220 882.62 L225 878.5 M296.25 882.62 L291.88 878.5"/>
<rect x="225.62" y="878.5" width="7.88" height="3.75"/>
<rect x="282.75" y="878.5" width="8.5" height="3.75"/>
<line x1="220" y1="865.12" x2="231.62" y2="865.12"/>
<line x1="284.62" y1="865.12" x2="296.25" y2="865.12"/>
<path d="M224.62 883.5 V890.12 M291.25 883.5 V890.12"/>
</g>
<g transform="translate(88.75 0)">
<path d="M233.5 792 V727.62 H244.75 M271.5 727.62 H282.75 V792"/>
<path d="M233.5 738.62 H244.75 M271.5 738.62 H282.75"/>
<line x1="233.5" y1="768.25" x2="282.75" y2="768.25"/>
<line x1="233.5" y1="781.12" x2="282.75" y2="781.12"/>
<path d="M244.38 729.5 Q244.75 723.88 250.62 723.25 L265.62 723.25 Q271.5 723.88 271.88 729.5 L271.88 738.88 Q271.25 744.25 265.62 744.75 L250.62 744.75 Q245 744.25 244.38 738.88 Z"/>
<path d="M254 724.5 L252.5 734.25 L263.75 734.25 L262.25 724.5"/>
<path d="M244.75 730.75 L252.5 734.25 M271.5 730.75 L263.75 734.25"/>
<path d="M252.5 734.25 Q248.75 738.88 249 741 Q249.38 743.25 251.5 744.5 M263.75 734.25 Q267.5 738.88 267.25 741 Q266.88 743.25 264.75 744.5"/>
<path d="M233.5 792 Q236.88 797 236.25 800.12 Q235.75 802.75 233.5 802.75 L231.62 802.75"/>
<path d="M282.75 792 Q279.38 797 280 800.12 Q280.5 802.75 282.75 802.75 L284.62 802.75"/>
<path d="M224.38 803 H231.62 M284.62 803 H291.62"/>
<path d="M227.25 803 V806.38 Q227.75 811 233.5 811.62 L282.75 811.62 Q288.5 811 289 806.38 V803"/>
<path d="M231.62 798.25 H224.38 V860.75 L220 865.12 V882.62"/>
<path d="M284.62 798.25 H291.62 V860.75 L296.25 865.12 V882.62"/>
<line x1="231.62" y1="789.5" x2="231.62" y2="803"/>
<line x1="284.62" y1="789.5" x2="284.62" y2="803"/>
<line x1="231.62" y1="811.62" x2="231.62" y2="866"/>
<line x1="284.62" y1="811.62" x2="284.62" y2="866"/>
<line x1="233.5" y1="815.12" x2="233.5" y2="869.25"/>
<line x1="282.75" y1="815.12" x2="282.75" y2="869.25"/>
<line x1="233.5" y1="815.12" x2="282.75" y2="815.12"/>
<line x1="233.5" y1="816.5" x2="282.75" y2="816.5" stroke-width="1.6"/>
<path d="M227.25 861.38 L221.88 866 M289 861.38 L294.38 866"/>
<path d="M230.62 860.12 L225.62 865.12 M285.62 860.12 L290.62 865.12"/>
<rect x="231.88" y="865.75" width="6.25" height="3.25"/>
<rect x="278.12" y="865.75" width="6.25" height="3.25"/>
<line x1="233.5" y1="869.25" x2="282.75" y2="869.25"/>
<line x1="233.5" y1="873.5" x2="282.75" y2="873.5"/>
<rect x="227.5" y="870.12" width="5.62" height="8.38"/>
<rect x="283.12" y="870.12" width="6.88" height="8.38"/>
<rect x="225" y="870.12" width="2.5" height="8.38"/>
<rect x="290" y="870.12" width="1.88" height="8.38"/>
<line x1="220" y1="882.62" x2="296.25" y2="882.62"/>
<line x1="233.5" y1="880.75" x2="282.75" y2="880.75"/>
<path d="M220 866 L225 870.12 L225 878.5 M296.25 866 L291.88 870.12 L291.88 878.5"/>
<path d="M220 882.62 L225 878.5 M296.25 882.62 L291.88 878.5"/>
<rect x="225.62" y="878.5" width="7.88" height="3.75"/>
<rect x="282.75" y="878.5" width="8.5" height="3.75"/>
<line x1="220" y1="865.12" x2="231.62" y2="865.12"/>
<line x1="284.62" y1="865.12" x2="296.25" y2="865.12"/>
<path d="M224.62 883.5 V890.12 M291.25 883.5 V890.12"/>
</g>
<g transform="translate(177.5 0)">
<path d="M233.5 792 V727.62 H244.75 M271.5 727.62 H282.75 V792"/>
<path d="M233.5 738.62 H244.75 M271.5 738.62 H282.75"/>
<line x1="233.5" y1="768.25" x2="282.75" y2="768.25"/>
<line x1="233.5" y1="781.12" x2="282.75" y2="781.12"/>
<path d="M244.38 729.5 Q244.75 723.88 250.62 723.25 L265.62 723.25 Q271.5 723.88 271.88 729.5 L271.88 738.88 Q271.25 744.25 265.62 744.75 L250.62 744.75 Q245 744.25 244.38 738.88 Z"/>
<path d="M254 724.5 L252.5 734.25 L263.75 734.25 L262.25 724.5"/>
<path d="M244.75 730.75 L252.5 734.25 M271.5 730.75 L263.75 734.25"/>
<path d="M252.5 734.25 Q248.75 738.88 249 741 Q249.38 743.25 251.5 744.5 M263.75 734.25 Q267.5 738.88 267.25 741 Q266.88 743.25 264.75 744.5"/>
<path d="M233.5 792 Q236.88 797 236.25 800.12 Q235.75 802.75 233.5 802.75 L231.62 802.75"/>
<path d="M282.75 792 Q279.38 797 280 800.12 Q280.5 802.75 282.75 802.75 L284.62 802.75"/>
<path d="M224.38 803 H231.62 M284.62 803 H291.62"/>
<path d="M227.25 803 V806.38 Q227.75 811 233.5 811.62 L282.75 811.62 Q288.5 811 289 806.38 V803"/>
<path d="M231.62 798.25 H224.38 V860.75 L220 865.12 V882.62"/>
<path d="M284.62 798.25 H291.62 V860.75 L296.25 865.12 V882.62"/>
<line x1="231.62" y1="789.5" x2="231.62" y2="803"/>
<line x1="284.62" y1="789.5" x2="284.62" y2="803"/>
<line x1="231.62" y1="811.62" x2="231.62" y2="866"/>
<line x1="284.62" y1="811.62" x2="284.62" y2="866"/>
<line x1="233.5" y1="815.12" x2="233.5" y2="869.25"/>
<line x1="282.75" y1="815.12" x2="282.75" y2="869.25"/>
<line x1="233.5" y1="815.12" x2="282.75" y2="815.12"/>
<line x1="233.5" y1="816.5" x2="282.75" y2="816.5" stroke-width="1.6"/>
<path d="M227.25 861.38 L221.88 866 M289 861.38 L294.38 866"/>
<path d="M230.62 860.12 L225.62 865.12 M285.62 860.12 L290.62 865.12"/>
<rect x="231.88" y="865.75" width="6.25" height="3.25"/>
<rect x="278.12" y="865.75" width="6.25" height="3.25"/>
<line x1="233.5" y1="869.25" x2="282.75" y2="869.25"/>
<line x1="233.5" y1="873.5" x2="282.75" y2="873.5"/>
<rect x="227.5" y="870.12" width="5.62" height="8.38"/>
<rect x="283.12" y="870.12" width="6.88" height="8.38"/>
<rect x="225" y="870.12" width="2.5" height="8.38"/>
<rect x="290" y="870.12" width="1.88" height="8.38"/>
<line x1="220" y1="882.62" x2="296.25" y2="882.62"/>
<line x1="233.5" y1="880.75" x2="282.75" y2="880.75"/>
<path d="M220 866 L225 870.12 L225 878.5 M296.25 866 L291.88 870.12 L291.88 878.5"/>
<path d="M220 882.62 L225 878.5 M296.25 882.62 L291.88 878.5"/>
<rect x="225.62" y="878.5" width="7.88" height="3.75"/>
<rect x="282.75" y="878.5" width="8.5" height="3.75"/>
<line x1="220" y1="865.12" x2="231.62" y2="865.12"/>
<line x1="284.62" y1="865.12" x2="296.25" y2="865.12"/>
<path d="M224.62 883.5 V890.12 M291.25 883.5 V890.12"/>
</g>
<g transform="translate(266.25 0)">
<path d="M233.5 792 V727.62 H244.75 M271.5 727.62 H282.75 V792"/>
<path d="M233.5 738.62 H244.75 M271.5 738.62 H282.75"/>
<line x1="233.5" y1="768.25" x2="282.75" y2="768.25"/>
<line x1="233.5" y1="781.12" x2="282.75" y2="781.12"/>
<path d="M244.38 729.5 Q244.75 723.88 250.62 723.25 L265.62 723.25 Q271.5 723.88 271.88 729.5 L271.88 738.88 Q271.25 744.25 265.62 744.75 L250.62 744.75 Q245 744.25 244.38 738.88 Z"/>
<path d="M254 724.5 L252.5 734.25 L263.75 734.25 L262.25 724.5"/>
<path d="M244.75 730.75 L252.5 734.25 M271.5 730.75 L263.75 734.25"/>
<path d="M252.5 734.25 Q248.75 738.88 249 741 Q249.38 743.25 251.5 744.5 M263.75 734.25 Q267.5 738.88 267.25 741 Q266.88 743.25 264.75 744.5"/>
<path d="M233.5 792 Q236.88 797 236.25 800.12 Q235.75 802.75 233.5 802.75 L231.62 802.75"/>
<path d="M282.75 792 Q279.38 797 280 800.12 Q280.5 802.75 282.75 802.75 L284.62 802.75"/>
<path d="M224.38 803 H231.62 M284.62 803 H291.62"/>
<path d="M227.25 803 V806.38 Q227.75 811 233.5 811.62 L282.75 811.62 Q288.5 811 289 806.38 V803"/>
<path d="M231.62 798.25 H224.38 V860.75 L220 865.12 V882.62"/>
<path d="M284.62 798.25 H291.62 V860.75 L296.25 865.12 V882.62"/>
<line x1="231.62" y1="789.5" x2="231.62" y2="803"/>
<line x1="284.62" y1="789.5" x2="284.62" y2="803"/>
<line x1="231.62" y1="811.62" x2="231.62" y2="866"/>
<line x1="284.62" y1="811.62" x2="284.62" y2="866"/>
<line x1="233.5" y1="815.12" x2="233.5" y2="869.25"/>
<line x1="282.75" y1="815.12" x2="282.75" y2="869.25"/>
<line x1="233.5" y1="815.12" x2="282.75" y2="815.12"/>
<line x1="233.5" y1="816.5" x2="282.75" y2="816.5" stroke-width="1.6"/>
<path d="M227.25 861.38 L221.88 866 M289 861.38 L294.38 866"/>
<path d="M230.62 860.12 L225.62 865.12 M285.62 860.12 L290.62 865.12"/>
<rect x="231.88" y="865.75" width="6.25" height="3.25"/>
<rect x="278.12" y="865.75" width="6.25" height="3.25"/>
<line x1="233.5" y1="869.25" x2="282.75" y2="869.25"/>
<line x1="233.5" y1="873.5" x2="282.75" y2="873.5"/>
<rect x="227.5" y="870.12" width="5.62" height="8.38"/>
<rect x="283.12" y="870.12" width="6.88" height="8.38"/>
<rect x="225" y="870.12" width="2.5" height="8.38"/>
<rect x="290" y="870.12" width="1.88" height="8.38"/>
<line x1="220" y1="882.62" x2="296.25" y2="882.62"/>
<line x1="233.5" y1="880.75" x2="282.75" y2="880.75"/>
<path d="M220 866 L225 870.12 L225 878.5 M296.25 866 L291.88 870.12 L291.88 878.5"/>
<path d="M220 882.62 L225 878.5 M296.25 882.62 L291.88 878.5"/>
<rect x="225.62" y="878.5" width="7.88" height="3.75"/>
<rect x="282.75" y="878.5" width="8.5" height="3.75"/>
<line x1="220" y1="865.12" x2="231.62" y2="865.12"/>
<line x1="284.62" y1="865.12" x2="296.25" y2="865.12"/>
<path d="M224.62 883.5 V890.12 M291.25 883.5 V890.12"/>
</g>
<line x1="213.6" y1="789.5" x2="231.62" y2="789.5"/>
<line x1="284.62" y1="789.5" x2="320.38" y2="789.5"/>
<line x1="373.38" y1="789.5" x2="409.12" y2="789.5"/>
<line x1="462.12" y1="789.5" x2="497.88" y2="789.5"/>
<line x1="550.88" y1="789.5" x2="568.3" y2="789.5"/>
<line x1="213.6" y1="831.75" x2="224.38" y2="831.75"/>
<line x1="291.62" y1="831.75" x2="313.12" y2="831.75"/>
<line x1="380.38" y1="831.75" x2="401.88" y2="831.75"/>
<line x1="469.12" y1="831.75" x2="490.62" y2="831.75"/>
<line x1="557.88" y1="831.75" x2="568.3" y2="831.75"/>
<line x1="213.6" y1="865.12" x2="220" y2="865.12"/>
<line x1="296.25" y1="865.12" x2="308.75" y2="865.12"/>
<line x1="385" y1="865.12" x2="397.5" y2="865.12"/>
<line x1="473.75" y1="865.12" x2="486.25" y2="865.12"/>
<line x1="562.5" y1="865.12" x2="568.3" y2="865.12"/>
<line x1="258" y1="640.5" x2="258" y2="714.5"/>
<line x1="524.25" y1="640.5" x2="524.25" y2="714.5"/>
<line x1="258" y1="649.25" x2="524.25" y2="649.25"/>
<polygon class="ar" points="258,649.25 266.5,647.35 266.5,651.15"/>
<polygon class="ar" points="524.25,649.25 515.75,647.35 515.75,651.15"/>
<text class="s" x="356.25" y="648.25" font-size="22.35" textLength="70" lengthAdjust="spacingAndGlyphs" style="stroke-width:0.5px">DIM B</text>
<line x1="346.75" y1="678.25" x2="346.75" y2="706.25"/>
<line x1="258" y1="686.75" x2="346.75" y2="686.75"/>
<polygon class="ar" points="258,686.75 266.5,684.85 266.5,688.65"/>
<polygon class="ar" points="346.75,686.75 338.25,684.85 338.25,688.65"/>
<text class="s" x="278.75" y="682" font-size="22.35" textLength="47" lengthAdjust="spacingAndGlyphs" style="stroke-width:0.5px">2,00</text>
<line x1="499.5" y1="693.75" x2="499.5" y2="718"/>
<line x1="548" y1="693.75" x2="548" y2="718"/>
<line x1="499.5" y1="702.5" x2="625" y2="702.5"/>
<polygon class="ar" points="499.5,702.5 508,700.6 508,704.4"/>
<polygon class="ar" points="548,702.5 539.5,700.6 539.5,704.4"/>
<text class="s" x="555" y="700.75" font-size="22.35" textLength="68.75" lengthAdjust="spacingAndGlyphs" style="stroke-width:0.5px">1.10*4</text>
<line x1="576.25" y1="789.5" x2="625" y2="789.5"/>
<line x1="576.25" y1="891.5" x2="625" y2="891.5"/>
<line x1="616.75" y1="789.5" x2="616.75" y2="829"/>
<line x1="616.75" y1="851" x2="616.75" y2="891.5"/>
<polygon class="ar" points="616.75,789.5 614.85,798 618.65,798"/>
<polygon class="ar" points="616.75,891.5 614.85,883 618.65,883"/>
<text class="s" x="592" y="847.5" font-size="22.35" textLength="48.75" lengthAdjust="spacingAndGlyphs" style="stroke-width:0.5px">2,30</text>
<rect x="243.4" y="1009.5" width="355.35" height="288"/>
<line x1="243.4" y1="1142.6" x2="598.75" y2="1142.6"/>
<line x1="243.4" y1="1208.75" x2="598.75" y2="1208.75"/>
<g transform="translate(0 0)">
<path d="M254.38 1009.38 V1086.25 Q255 1091.25 258.12 1094.38 L261.88 1098.75 Q263.5 1100.62 263.5 1103.75 V1130.62 L260.62 1135.25"/>
<path d="M321.25 1009.38 V1086.25 Q320.62 1091.25 317.5 1094.38 L313.75 1098.75 Q311.88 1100.62 311.88 1103.75 V1130.62 L315 1135.25"/>
<line x1="256.5" y1="1093.75" x2="256.5" y2="1135.25"/>
<line x1="318.88" y1="1093.75" x2="318.88" y2="1135.25"/>
<line x1="261.62" y1="1098.75" x2="261.62" y2="1132.5"/>
<line x1="313.75" y1="1098.75" x2="313.75" y2="1132.5"/>
<line x1="263.5" y1="1113.5" x2="311.88" y2="1113.5"/>
<line x1="263.5" y1="1124.38" x2="311.88" y2="1124.38"/>
<line x1="263.5" y1="1130.62" x2="311.88" y2="1130.62"/>
<path d="M254.38 1142.5 V1135.25 H321.25 V1142.5"/>
<rect x="276.25" y="1023.75" width="22.5" height="62.5" rx="5.8"/>
<line x1="276.25" y1="1037.25" x2="298.75" y2="1037.25"/>
<line x1="276.25" y1="1046" x2="298.75" y2="1046"/>
<line x1="276.25" y1="1048.12" x2="298.75" y2="1048.12"/>
<line x1="276.25" y1="1065.38" x2="298.75" y2="1065.38"/>
<path d="M278.75 1085 Q287.5 1085.5 296.25 1085"/>
</g>
<g transform="translate(88.75 0)">
<path d="M254.38 1009.38 V1086.25 Q255 1091.25 258.12 1094.38 L261.88 1098.75 Q263.5 1100.62 263.5 1103.75 V1130.62 L260.62 1135.25"/>
<path d="M321.25 1009.38 V1086.25 Q320.62 1091.25 317.5 1094.38 L313.75 1098.75 Q311.88 1100.62 311.88 1103.75 V1130.62 L315 1135.25"/>
<line x1="256.5" y1="1093.75" x2="256.5" y2="1135.25"/>
<line x1="318.88" y1="1093.75" x2="318.88" y2="1135.25"/>
<line x1="261.62" y1="1098.75" x2="261.62" y2="1132.5"/>
<line x1="313.75" y1="1098.75" x2="313.75" y2="1132.5"/>
<line x1="263.5" y1="1113.5" x2="311.88" y2="1113.5"/>
<line x1="263.5" y1="1124.38" x2="311.88" y2="1124.38"/>
<line x1="263.5" y1="1130.62" x2="311.88" y2="1130.62"/>
<path d="M254.38 1142.5 V1135.25 H321.25 V1142.5"/>
<rect x="276.25" y="1023.75" width="22.5" height="62.5" rx="5.8"/>
<line x1="276.25" y1="1037.25" x2="298.75" y2="1037.25"/>
<line x1="276.25" y1="1046" x2="298.75" y2="1046"/>
<line x1="276.25" y1="1048.12" x2="298.75" y2="1048.12"/>
<line x1="276.25" y1="1065.38" x2="298.75" y2="1065.38"/>
<path d="M278.75 1085 Q287.5 1085.5 296.25 1085"/>
</g>
<g transform="translate(177.5 0)">
<path d="M254.38 1009.38 V1086.25 Q255 1091.25 258.12 1094.38 L261.88 1098.75 Q263.5 1100.62 263.5 1103.75 V1130.62 L260.62 1135.25"/>
<path d="M321.25 1009.38 V1086.25 Q320.62 1091.25 317.5 1094.38 L313.75 1098.75 Q311.88 1100.62 311.88 1103.75 V1130.62 L315 1135.25"/>
<line x1="256.5" y1="1093.75" x2="256.5" y2="1135.25"/>
<line x1="318.88" y1="1093.75" x2="318.88" y2="1135.25"/>
<line x1="261.62" y1="1098.75" x2="261.62" y2="1132.5"/>
<line x1="313.75" y1="1098.75" x2="313.75" y2="1132.5"/>
<line x1="263.5" y1="1113.5" x2="311.88" y2="1113.5"/>
<line x1="263.5" y1="1124.38" x2="311.88" y2="1124.38"/>
<line x1="263.5" y1="1130.62" x2="311.88" y2="1130.62"/>
<path d="M254.38 1142.5 V1135.25 H321.25 V1142.5"/>
<rect x="276.25" y="1023.75" width="22.5" height="62.5" rx="5.8"/>
<line x1="276.25" y1="1037.25" x2="298.75" y2="1037.25"/>
<line x1="276.25" y1="1046" x2="298.75" y2="1046"/>
<line x1="276.25" y1="1048.12" x2="298.75" y2="1048.12"/>
<line x1="276.25" y1="1065.38" x2="298.75" y2="1065.38"/>
<path d="M278.75 1085 Q287.5 1085.5 296.25 1085"/>
</g>
<g transform="translate(266.25 0)">
<path d="M254.38 1009.38 V1086.25 Q255 1091.25 258.12 1094.38 L261.88 1098.75 Q263.5 1100.62 263.5 1103.75 V1130.62 L260.62 1135.25"/>
<path d="M321.25 1009.38 V1086.25 Q320.62 1091.25 317.5 1094.38 L313.75 1098.75 Q311.88 1100.62 311.88 1103.75 V1130.62 L315 1135.25"/>
<line x1="256.5" y1="1093.75" x2="256.5" y2="1135.25"/>
<line x1="318.88" y1="1093.75" x2="318.88" y2="1135.25"/>
<line x1="261.62" y1="1098.75" x2="261.62" y2="1132.5"/>
<line x1="313.75" y1="1098.75" x2="313.75" y2="1132.5"/>
<line x1="263.5" y1="1113.5" x2="311.88" y2="1113.5"/>
<line x1="263.5" y1="1124.38" x2="311.88" y2="1124.38"/>
<line x1="263.5" y1="1130.62" x2="311.88" y2="1130.62"/>
<path d="M254.38 1142.5 V1135.25 H321.25 V1142.5"/>
<rect x="276.25" y="1023.75" width="22.5" height="62.5" rx="5.8"/>
<line x1="276.25" y1="1037.25" x2="298.75" y2="1037.25"/>
<line x1="276.25" y1="1046" x2="298.75" y2="1046"/>
<line x1="276.25" y1="1048.12" x2="298.75" y2="1048.12"/>
<line x1="276.25" y1="1065.38" x2="298.75" y2="1065.38"/>
<path d="M278.75 1085 Q287.5 1085.5 296.25 1085"/>
</g>
<g transform="translate(0 0)">
<path d="M321.25 1026.88 L325.62 1029.5 H338.75 L343.5 1026.88"/>
<path d="M325.62 1029.5 V1071.88 L321.25 1076.25 M338.75 1029.5 V1071.88 L343.5 1076.25"/>
</g>
<g transform="translate(88.75 0)">
<path d="M321.25 1026.88 L325.62 1029.5 H338.75 L343.5 1026.88"/>
<path d="M325.62 1029.5 V1071.88 L321.25 1076.25 M338.75 1029.5 V1071.88 L343.5 1076.25"/>
</g>
<g transform="translate(177.5 0)">
<path d="M321.25 1026.88 L325.62 1029.5 H338.75 L343.5 1026.88"/>
<path d="M325.62 1029.5 V1071.88 L321.25 1076.25 M338.75 1029.5 V1071.88 L343.5 1076.25"/>
</g>
<path d="M243.5 1029.5 H249.75 L254.38 1026.88 M249.75 1029.5 V1071.88 L254.38 1076.25"/>
<g transform="translate(266.25 0)">
<path d="M321.25 1026.88 L325.62 1029.5 H331.88 M325.62 1029.5 V1071.88 L321.25 1076.25"/>
</g>
<line x1="186.25" y1="1009.5" x2="243" y2="1009.5"/>
<line x1="186.25" y1="1098.75" x2="253.75" y2="1098.75"/>
<line x1="195" y1="1009.5" x2="195" y2="1044"/>
<line x1="195" y1="1065" x2="195" y2="1098.75"/>
<polygon class="ar" points="195,1009.5 193.1,1018 196.9,1018"/>
<polygon class="ar" points="195,1098.75 193.1,1090.25 196.9,1090.25"/>
<text class="s" x="179.5" y="1062" font-size="22.35" textLength="31.75" lengthAdjust="spacingAndGlyphs" style="stroke-width:0.5px">2,0</text>
<line x1="243.25" y1="950" x2="243.25" y2="1001.25"/>
<line x1="288" y1="950" x2="288" y2="1001.25"/>
<line x1="376.75" y1="950" x2="376.75" y2="1001.25"/>
<line x1="243.25" y1="958.25" x2="288" y2="958.25"/>
<polygon class="ar" points="243.25,958.25 251.75,956.35 251.75,960.15"/>
<polygon class="ar" points="288,958.25 279.5,956.35 279.5,960.15"/>
<line x1="288" y1="958.25" x2="376.75" y2="958.25"/>
<polygon class="ar" points="288,958.25 296.5,956.35 296.5,960.15"/>
<polygon class="ar" points="376.75,958.25 368.25,956.35 368.25,960.15"/>
<text class="s" x="244.5" y="954.5" font-size="22.35" textLength="41.75" lengthAdjust="spacingAndGlyphs" style="stroke-width:0.5px">1,00</text>
<text class="s" x="308.75" y="954.5" font-size="22.35" textLength="47" lengthAdjust="spacingAndGlyphs" style="stroke-width:0.5px">2,00</text>
<line x1="520" y1="948.75" x2="520" y2="1001"/>
<line x1="586.75" y1="948.75" x2="586.75" y2="1001"/>
<line x1="520" y1="957" x2="586.75" y2="957"/>
<polygon class="ar" points="520,957 528.5,955.1 528.5,958.9"/>
<polygon class="ar" points="586.75,957 578.25,955.1 578.25,958.9"/>
<text class="s" x="530" y="953" font-size="22.35" textLength="46.25" lengthAdjust="spacingAndGlyphs" style="stroke-width:0.5px">1,50</text>
<polyline points="1107.5,702.3 819.4,702.3 819.4,744.4 839.2,777.3 952.25,777.3 952.25,801.9 1018.5,801.9 1018.5,804.2 1107.5,804.2"/>
<line x1="1107.5" y1="702.3" x2="1107.5" y2="804.2" stroke-width="1"/>
<path d="M922.5 795.62 H819.4 V804.2 H922.5 Q928.75 803.75 933.5 800 L939 794.38 Q942.25 790.62 946.25 790.25 H952.25"/>
<path d="M922.5 795.62 Q927.25 794.75 930 791.5 L935.25 785.62 Q938.5 782.25 943.75 782.12 H952.25"/>
<line x1="896.5" y1="795.62" x2="896.5" y2="804.12"/>
<line x1="900" y1="795.62" x2="900" y2="804.12"/>
<line x1="907.5" y1="795.62" x2="907.5" y2="804.12"/>
<line x1="909" y1="795.62" x2="909" y2="804.12"/>
<line x1="912.5" y1="795.62" x2="912.5" y2="804.12"/>
<line x1="922.5" y1="795.62" x2="922.5" y2="804.12"/>
<line x1="927.5" y1="793.75" x2="933.5" y2="800"/>
<line x1="935" y1="785.88" x2="938.75" y2="794.38"/>
<line x1="945.62" y1="782.12" x2="945.62" y2="790.25"/>
<line x1="938.12" y1="783.12" x2="941.25" y2="791.5"/>
<path d="M848.5 744.38 L839.12 743.12 L845.25 708.12 Q846.5 700 846.5 693.75 Q847.25 686.25 850 680.62 L866 652.75 Q873.75 636.88 885 636.25 Q894.38 636.88 900 643.75 L975.62 702.12"/>
<path d="M848.5 744.38 L854.38 709.38 Q855.62 701.25 856 693.75 Q856.5 688.12 858.5 684.38 L875 654.38 Q880 648.5 886.25 648.5 Q890.62 648.5 895 652.25 L960.62 702.12"/>
<path d="M866.88 650.62 Q872.5 640 885 640.25 Q895 640.62 900 645.62"/>
<line x1="867.5" y1="651.25" x2="875" y2="654.38"/>
<line x1="895.62" y1="650.62" x2="900" y2="645"/>
<line x1="850" y1="680.62" x2="858.12" y2="685"/>
<line x1="846.5" y1="694.62" x2="855.88" y2="694.62"/>
<line x1="845.25" y1="708.75" x2="854.38" y2="709.75"/>
<line x1="881.25" y1="636.62" x2="882.5" y2="640.62"/>
<path d="M846 703.12 Q848.12 695 858.75 691.5 Q867.5 690 873.75 691.5 L964.75 718.38"/>
<path d="M854.38 709.38 Q855.62 702.5 861.25 700 Q866.88 698.5 871.88 700 L951.25 723.38"/>
<line x1="872.75" y1="691.5" x2="870.75" y2="699.5"/>
<line x1="855.62" y1="694.62" x2="855.62" y2="702.75"/>
<line x1="873.75" y1="689.7" x2="1141.25" y2="689.7"/>
<line x1="865.3" y1="544.5" x2="865.3" y2="696"/>
<line x1="1107.5" y1="544.5" x2="1107.5" y2="692.5"/>
<line x1="865.3" y1="553.25" x2="1107.5" y2="553.25"/>
<polygon class="ar" points="865.3,553.25 873.8,551.35 873.8,555.15"/>
<polygon class="ar" points="1107.5,553.25 1099,551.35 1099,555.15"/>
<text class="s" x="945.75" y="552" font-size="22.35" textLength="79.75" lengthAdjust="spacingAndGlyphs" style="stroke-width:0.5px">5.5REF</text>
<line x1="883.2" y1="593" x2="883.2" y2="627.5"/>
<line x1="883.2" y1="602.5" x2="1107.5" y2="602.5"/>
<polygon class="ar" points="883.2,602.5 891.7,600.6 891.7,604.4"/>
<polygon class="ar" points="1107.5,602.5 1099,600.6 1099,604.4"/>
<text class="s" x="945.75" y="601.25" font-size="22.07" textLength="100" lengthAdjust="spacingAndGlyphs" style="stroke-width:0.5px">4.98±0.3</text>
<line x1="769.25" y1="636.2" x2="869.7" y2="636.2"/>
<line x1="769.25" y1="702.3" x2="810.5" y2="702.3"/>
<line x1="778" y1="636.2" x2="778" y2="702.3"/>
<polygon class="ar" points="778,636.2 776.1,644.7 779.9,644.7"/>
<polygon class="ar" points="778,702.3 776.1,693.8 779.9,693.8"/>
<text class="s" x="738" y="677.5" font-size="21.93" textLength="79.5" lengthAdjust="spacingAndGlyphs" style="stroke-width:0.5px">1.4±0.2</text>
<line x1="1116.25" y1="702.3" x2="1141.25" y2="702.3"/>
<line x1="1132" y1="676.25" x2="1132" y2="716.25"/>
<line x1="1132" y1="676.25" x2="1163.75" y2="676.25"/>
<polygon class="ar" points="1132,689.7 1130.1,681.2 1133.9,681.2"/>
<polygon class="ar" points="1132,702.3 1130.1,710.8 1133.9,710.8"/>
<text class="s" x="1132.5" y="673.75" font-size="21.37" textLength="32" lengthAdjust="spacingAndGlyphs" style="stroke-width:0.5px">0.3</text>
<text class="r" x="1151" y="693" font-size="19.08" textLength="187.5" lengthAdjust="spacingAndGlyphs" style="stroke:none">(MAX WORKING POSITION)</text>
<line x1="779.5" y1="795.7" x2="810.5" y2="795.7"/>
<line x1="779.5" y1="804.2" x2="810.5" y2="804.2"/>
<line x1="788" y1="780.75" x2="788" y2="852.5"/>
<line x1="741.25" y1="852.5" x2="788" y2="852.5"/>
<polygon class="ar" points="788,795.7 786.1,787.2 789.9,787.2"/>
<polygon class="ar" points="788,804.2 786.1,812.7 789.9,812.7"/>
<text class="s" x="740.5" y="847.5" font-size="21.65" textLength="47" lengthAdjust="spacingAndGlyphs" style="stroke-width:0.5px">0,20</text>
<line x1="952.25" y1="811.25" x2="952.25" y2="845"/>
<line x1="952.25" y1="837" x2="1107.5" y2="837"/>
<polygon class="ar" points="952.25,837 960.75,835.1 960.75,838.9"/>
<polygon class="ar" points="1107.5,837 1099,835.1 1099,838.9"/>
<text class="s" x="1005" y="832.5" font-size="21.93" textLength="48.75" lengthAdjust="spacingAndGlyphs" style="stroke-width:0.5px">3,50</text>
<line x1="819.4" y1="812.5" x2="819.4" y2="883.75"/>
<line x1="1107.5" y1="812.5" x2="1107.5" y2="883.75"/>
<line x1="819.4" y1="874.5" x2="1107.5" y2="874.5"/>
<polygon class="ar" points="819.4,874.5 827.9,872.6 827.9,876.4"/>
<polygon class="ar" points="1107.5,874.5 1099,872.6 1099,876.4"/>
<text class="s" x="920.75" y="873.25" font-size="22.07" textLength="84.25" lengthAdjust="spacingAndGlyphs" style="stroke-width:0.5px">6.5±0.3</text>
<clipPath id="pc"><rect x="1709.25" y="236.25" width="133.25" height="75"/><rect x="1709.25" y="324.5" width="133.25" height="75.5"/><rect x="1709.25" y="412.5" width="133.25" height="75.75"/><rect x="1709.25" y="501.25" width="133.25" height="75.75"/></clipPath>
<g clip-path="url(#pc)" stroke-width="1.15">
<line x1="1217.7" y1="585" x2="1572.7" y2="230"/>
<line x1="1230.6" y1="585" x2="1585.6" y2="230"/>
<line x1="1243.5" y1="585" x2="1598.5" y2="230"/>
<line x1="1256.4" y1="585" x2="1611.4" y2="230"/>
<line x1="1269.3" y1="585" x2="1624.3" y2="230"/>
<line x1="1282.2" y1="585" x2="1637.2" y2="230"/>
<line x1="1295.1" y1="585" x2="1650.1" y2="230"/>
<line x1="1308" y1="585" x2="1663" y2="230"/>
<line x1="1320.9" y1="585" x2="1675.9" y2="230"/>
<line x1="1333.8" y1="585" x2="1688.8" y2="230"/>
<line x1="1346.7" y1="585" x2="1701.7" y2="230"/>
<line x1="1359.6" y1="585" x2="1714.6" y2="230"/>
<line x1="1372.5" y1="585" x2="1727.5" y2="230"/>
<line x1="1385.4" y1="585" x2="1740.4" y2="230"/>
<line x1="1398.3" y1="585" x2="1753.3" y2="230"/>
<line x1="1411.2" y1="585" x2="1766.2" y2="230"/>
<line x1="1424.1" y1="585" x2="1779.1" y2="230"/>
<line x1="1437" y1="585" x2="1792" y2="230"/>
<line x1="1449.9" y1="585" x2="1804.9" y2="230"/>
<line x1="1462.8" y1="585" x2="1817.8" y2="230"/>
<line x1="1475.7" y1="585" x2="1830.7" y2="230"/>
<line x1="1488.6" y1="585" x2="1843.6" y2="230"/>
<line x1="1501.5" y1="585" x2="1856.5" y2="230"/>
<line x1="1514.4" y1="585" x2="1869.4" y2="230"/>
<line x1="1527.3" y1="585" x2="1882.3" y2="230"/>
<line x1="1540.2" y1="585" x2="1895.2" y2="230"/>
<line x1="1553.1" y1="585" x2="1908.1" y2="230"/>
<line x1="1566" y1="585" x2="1921" y2="230"/>
<line x1="1578.9" y1="585" x2="1933.9" y2="230"/>
<line x1="1591.8" y1="585" x2="1946.8" y2="230"/>
<line x1="1604.7" y1="585" x2="1959.7" y2="230"/>
<line x1="1617.6" y1="585" x2="1972.6" y2="230"/>
<line x1="1630.5" y1="585" x2="1985.5" y2="230"/>
<line x1="1643.4" y1="585" x2="1998.4" y2="230"/>
<line x1="1656.3" y1="585" x2="2011.3" y2="230"/>
<line x1="1669.2" y1="585" x2="2024.2" y2="230"/>
<line x1="1682.1" y1="585" x2="2037.1" y2="230"/>
<line x1="1695" y1="585" x2="2050" y2="230"/>
<line x1="1707.9" y1="585" x2="2062.9" y2="230"/>
<line x1="1720.8" y1="585" x2="2075.8" y2="230"/>
<line x1="1733.7" y1="585" x2="2088.7" y2="230"/>
<line x1="1746.6" y1="585" x2="2101.6" y2="230"/>
<line x1="1759.5" y1="585" x2="2114.5" y2="230"/>
<line x1="1772.4" y1="585" x2="2127.4" y2="230"/>
<line x1="1785.3" y1="585" x2="2140.3" y2="230"/>
<line x1="1798.2" y1="585" x2="2153.2" y2="230"/>
<line x1="1811.1" y1="585" x2="2166.1" y2="230"/>
<line x1="1824" y1="585" x2="2179" y2="230"/>
<line x1="1836.9" y1="585" x2="2191.9" y2="230"/>
<line x1="1849.8" y1="585" x2="2204.8" y2="230"/>
<line x1="1862.7" y1="585" x2="2217.7" y2="230"/>
<line x1="1875.6" y1="585" x2="2230.6" y2="230"/>
<line x1="1888.5" y1="585" x2="2243.5" y2="230"/>
<line x1="1901.4" y1="585" x2="2256.4" y2="230"/>
<line x1="1914.3" y1="585" x2="2269.3" y2="230"/>
<line x1="1927.2" y1="585" x2="2282.2" y2="230"/>
<line x1="1940.1" y1="585" x2="2295.1" y2="230"/>
<line x1="1953" y1="585" x2="2308" y2="230"/>
<line x1="1965.9" y1="585" x2="2320.9" y2="230"/>
<line x1="1978.8" y1="585" x2="2333.8" y2="230"/>
<line x1="1991.7" y1="585" x2="2346.7" y2="230"/>
<line x1="2004.6" y1="585" x2="2359.6" y2="230"/>
<line x1="2017.5" y1="585" x2="2372.5" y2="230"/>
<line x1="2030.4" y1="585" x2="2385.4" y2="230"/>
<line x1="2043.3" y1="585" x2="2398.3" y2="230"/>
<line x1="2056.2" y1="585" x2="2411.2" y2="230"/>
<line x1="2069.1" y1="585" x2="2424.1" y2="230"/>
<line x1="2082" y1="585" x2="2437" y2="230"/>
<line x1="2094.9" y1="585" x2="2449.9" y2="230"/>
<line x1="2107.8" y1="585" x2="2462.8" y2="230"/>
<line x1="2120.7" y1="585" x2="2475.7" y2="230"/>
<line x1="2133.6" y1="585" x2="2488.6" y2="230"/>
</g>
<rect x="1709.25" y="236.25" width="133.25" height="75"/>
<rect x="1709.25" y="324.5" width="133.25" height="75.5"/>
<rect x="1709.25" y="412.5" width="133.25" height="75.75"/>
<rect x="1709.25" y="501.25" width="133.25" height="75.75"/>
<line x1="1472.5" y1="229.5" x2="1531.9" y2="229.5"/>
<line x1="1540.5" y1="229.5" x2="1577.9" y2="229.5"/>
<line x1="1584.6" y1="229.5" x2="1644.9" y2="229.5"/>
<line x1="1658.4" y1="229.5" x2="1711.1" y2="229.5"/>
<line x1="1722.6" y1="229.5" x2="1777.2" y2="229.5"/>
<line x1="1789.6" y1="229.5" x2="1828.75" y2="229.5"/>
<line x1="1836.6" y1="229.5" x2="1888.3" y2="229.5"/>
<line x1="1472" y1="583.25" x2="1532.5" y2="583.25"/>
<line x1="1540.75" y1="583.25" x2="1645" y2="583.25"/>
<line x1="1658.75" y1="583.25" x2="1712.5" y2="583.25"/>
<line x1="1722.5" y1="583.25" x2="1777.5" y2="583.25"/>
<line x1="1790" y1="583.25" x2="1828.75" y2="583.25"/>
<line x1="1540.75" y1="229.5" x2="1540.75" y2="266"/>
<line x1="1540.75" y1="279.5" x2="1540.75" y2="332.9"/>
<line x1="1540.75" y1="345.5" x2="1540.75" y2="398.8"/>
<line x1="1540.75" y1="412.4" x2="1540.75" y2="465.7"/>
<line x1="1540.75" y1="478.8" x2="1540.75" y2="532.2"/>
<line x1="1540.75" y1="545.9" x2="1540.75" y2="583.25"/>
<line x1="1540.75" y1="175.75" x2="1540.75" y2="220.5"/>
<line x1="1828.75" y1="175.75" x2="1828.75" y2="220.5"/>
<line x1="1540.75" y1="185" x2="1828.75" y2="185"/>
<polygon class="ar" points="1540.75,185 1549.25,183.1 1549.25,186.9"/>
<polygon class="ar" points="1828.75,185 1820.25,183.1 1820.25,186.9"/>
<text class="s" x="1659.5" y="181.25" font-size="22.07" textLength="50" lengthAdjust="spacingAndGlyphs" style="stroke-width:0.5px">6,50</text>
<line x1="1828.75" y1="229.5" x2="1828.75" y2="236.25"/>
<line x1="1828.75" y1="311.25" x2="1828.75" y2="324.5"/>
<line x1="1828.75" y1="400" x2="1828.75" y2="412.5"/>
<line x1="1828.75" y1="488.25" x2="1828.75" y2="501.25"/>
<line x1="1828.75" y1="577" x2="1828.75" y2="583.25"/>
<line x1="1481.75" y1="229.5" x2="1481.75" y2="396"/>
<line x1="1481.75" y1="418" x2="1481.75" y2="583.25"/>
<polygon class="ar" points="1481.75,229.5 1479.85,238 1483.65,238"/>
<polygon class="ar" points="1481.75,583.25 1479.85,574.75 1483.65,574.75"/>
<text class="s" x="1447" y="414.5" font-size="22.07" textLength="70.5" lengthAdjust="spacingAndGlyphs" style="stroke-width:0.5px">DIM A</text>
<line x1="1850" y1="273.25" x2="1936.25" y2="273.25"/>
<line x1="1850" y1="362" x2="1887.5" y2="362"/>
<line x1="1850.75" y1="539.25" x2="1936.25" y2="539.25"/>
<line x1="1878.75" y1="229.5" x2="1878.75" y2="273.25"/>
<polygon class="ar" points="1878.75,229.5 1876.85,238 1880.65,238"/>
<polygon class="ar" points="1878.75,273.25 1876.85,264.75 1880.65,264.75"/>
<text class="s" x="1858" y="258.25" font-size="22.07" textLength="42" lengthAdjust="spacingAndGlyphs" style="stroke-width:0.5px">1,00</text>
<line x1="1878.75" y1="273.25" x2="1878.75" y2="306"/>
<line x1="1878.75" y1="327" x2="1878.75" y2="362"/>
<polygon class="ar" points="1878.75,273.25 1876.85,281.75 1880.65,281.75"/>
<polygon class="ar" points="1878.75,362 1876.85,353.5 1880.65,353.5"/>
<text class="s" x="1855" y="324.5" font-size="22.07" textLength="47.5" lengthAdjust="spacingAndGlyphs" style="stroke-width:0.5px">2,00</text>
<line x1="1927.5" y1="273.25" x2="1927.5" y2="396"/>
<line x1="1927.5" y1="418" x2="1927.5" y2="539.25"/>
<polygon class="ar" points="1927.5,273.25 1925.6,281.75 1929.4,281.75"/>
<polygon class="ar" points="1927.5,539.25 1925.6,530.75 1929.4,530.75"/>
<text class="s" x="1892.5" y="414.5" font-size="22.07" textLength="70.75" lengthAdjust="spacingAndGlyphs" style="stroke-width:0.5px">DIM B</text>
<line x1="1653.25" y1="324.5" x2="1700" y2="324.5"/>
<line x1="1653.25" y1="400" x2="1700" y2="400"/>
<line x1="1662.5" y1="324.5" x2="1662.5" y2="351"/>
<line x1="1662.5" y1="372" x2="1662.5" y2="400"/>
<polygon class="ar" points="1662.5,324.5 1660.6,333 1664.4,333"/>
<polygon class="ar" points="1662.5,400 1660.6,391.5 1664.4,391.5"/>
<text class="s" x="1639.5" y="369.5" font-size="22.07" textLength="45.5" lengthAdjust="spacingAndGlyphs" style="stroke-width:0.5px">1,70</text>
<line x1="1540.75" y1="592" x2="1540.75" y2="622.5"/>
<line x1="1709.25" y1="586.25" x2="1709.25" y2="622.5"/>
<line x1="1835.5" y1="586.25" x2="1835.5" y2="622.5"/>
<line x1="1540.75" y1="614.25" x2="1709.25" y2="614.25"/>
<polygon class="ar" points="1540.75,614.25 1549.25,612.35 1549.25,616.15"/>
<polygon class="ar" points="1709.25,614.25 1700.75,612.35 1700.75,616.15"/>
<line x1="1709.25" y1="614.25" x2="1835.5" y2="614.25"/>
<polygon class="ar" points="1709.25,614.25 1717.75,612.35 1717.75,616.15"/>
<polygon class="ar" points="1835.5,614.25 1827,612.35 1827,616.15"/>
<text class="s" x="1600" y="609.25" font-size="20.95" textLength="50" lengthAdjust="spacingAndGlyphs" style="stroke-width:0.5px">3,80</text>
<text class="s" x="1757" y="612.5" font-size="20.95" textLength="31" lengthAdjust="spacingAndGlyphs" style="stroke-width:0.5px">3,0</text>
<line x1="1814.25" y1="596.25" x2="1905" y2="596.25"/>
<line x1="1829.25" y1="585" x2="1829.25" y2="606.25"/>
<line x1="1841.25" y1="585" x2="1841.25" y2="606.25"/>
<polygon class="ar" points="1829.25,596.25 1820.75,594.35 1820.75,598.15"/>
<polygon class="ar" points="1841.25,596.25 1849.75,594.35 1849.75,598.15"/>
<text class="s" x="1857" y="592.5" font-size="22.35" textLength="46.75" lengthAdjust="spacingAndGlyphs" style="stroke-width:0.5px">0,30</text>
<text class="r" x="1527.5" y="678.75" font-size="32.06" textLength="347.5" lengthAdjust="spacingAndGlyphs" style="stroke-width:0.3px">RECOMMENDED PCB LAYOUT</text>
<line x1="1512" y1="685.5" x2="1887" y2="685.5"/>
<line x1="1512" y1="699.25" x2="1887" y2="699.25"/>
<text class="r" x="1550" y="728" font-size="32.82" textLength="293.75" lengthAdjust="spacingAndGlyphs" style="stroke-width:0.3px">TOP VIEW(.XX±0.05)</text>
<g stroke-width="1.3" stroke-linejoin="round">
<path d="M850.07 216.97 L948.1 160.2 L1198.1 304.5 L1198.1 388"/>
<g transform="translate(0 0)">
<path d="M864.77 222.4 L886.26 209.95 L923.63 232.06 L887.19 252.92"/>
</g>
<g transform="translate(63.15 36.25)">
<path d="M864.77 222.4 L886.26 209.95 L923.63 232.06 L887.19 252.92"/>
</g>
<g transform="translate(126.3 72.5)">
<path d="M864.77 222.4 L886.26 209.95 L923.63 232.06 L887.19 252.92"/>
</g>
<g transform="translate(189.45 108.75)">
<path d="M864.77 222.4 L886.26 209.95 L923.63 232.06 L887.19 252.92"/>
</g>
<g transform="translate(-63.15 -36.25)">
<path d="M814.79 325.65 L823.11 330.23 L840.16 319.83 L844.74 333.14 L857.63 342.29 L857.63 351.86 L826.44 370.16 L814.79 351.86Z" fill="#fff" stroke="none"/>
<path d="M806.89 314.01 L819.2 321.33 L865.62 294.75 L861.05 283Z" fill="#fff" stroke="none"/>
<path d="M819.2 321.33 L840.16 309.43 L840.16 319.83 L823.11 330.23 L819.2 328.32Z" fill="#fff" stroke="none"/>
<path d="M806.89 314.01 L819.2 321.33 L819.2 328.32 L814.79 325.65 L814.79 351.86 L806.89 348.12Z" fill="#fff" stroke="none"/>
<path d="M806.89 348.12 C807.37 349.09 808.48 351.72 809.8 353.94 C811.11 356.16 812.99 359.21 814.79 361.43 C816.59 363.65 818.67 365.8 820.61 367.25 C822.55 368.71 825.47 369.68 826.44 370.16 L814.79 351.86 Z" fill="#fff"/>
<path d="M845.57 291.86 L806.89 314.01 L819.2 321.33 L844.99 306.56"/>
<path d="M814.79 325.65 L823.11 330.23 L840.16 319.83"/>
<path d="M806.72 314.01 L806.72 348.12" stroke-width="2"/>
<path d="M819.2 321.33 L819.2 327.73" stroke-width="2"/>
<path d="M814.87 325.65 L814.87 351.86" stroke-width="1.9"/>
<path d="M806.89 348.12 L814.79 351.86"/>
<path d="M826.44 370.16 L857.63 352.11" stroke-width="1.8"/>
</g>
<g transform="translate(-63.15 -36.25)">
<path d="M943.49 261.77 L948.48 261.89 L953.46 260.02 L959.06 256.47 L984.29 269.37 L986.78 268.31 L960.31 283.44 L969.03 277.96Z" fill="#fff" stroke="none"/>
<path d="M912 262.18 L909.07 269.1 L959.38 283.88 L969.03 277.96Z" fill="#fff" stroke="none"/>
<path d="M877.23 241.87 L943.49 261.77 L969.03 277.96 L912 262.18Z" fill="#fff" stroke="none"/>
<path d="M877.23 241.87 C876.6 241.93 874.93 241.87 873.46 242.28 C871.99 242.7 870.11 243.4 868.43 244.38 C866.76 245.36 864.94 246.75 863.41 248.15 C861.87 249.55 860.4 251.15 859.22 252.76 C858.03 254.36 857.05 256.39 856.28 257.78 C855.52 259.18 855.24 259.6 854.61 261.14 C853.98 262.67 853.59 264.09 852.51 267 C851.44 269.91 849.43 275.13 848.14 278.59 C846.86 282.05 845.64 285.49 844.82 287.74 C844 289.99 843.93 289.85 843.24 292.07 C842.54 294.29 841.25 299 840.66 301.05 C840.06 303.1 839.84 302.99 839.66 304.38 C839.48 305.77 839.48 307.71 839.58 309.37 C839.67 311.03 839.92 312.84 840.24 314.36 C840.56 315.89 841.14 317.52 841.49 318.52 C841.84 319.52 842.18 320.05 842.32 320.35 L836.08 322.52 C836.22 322.96 836.43 324.18 836.91 325.18 C837.4 326.18 838.09 327.47 838.99 328.51 C839.89 329.55 840.24 330.17 842.32 331.42 C844.4 332.67 848.56 334.54 851.47 335.99 C854.38 337.45 858.41 339.46 859.79 340.15 L880.59 328.51 C880.56 327.33 880.42 323.1 880.42 321.43 C880.42 319.77 880.29 320.05 880.59 318.52 C880.9 317 881.56 314.22 882.25 312.28 C882.95 310.34 883.5 309.86 884.75 306.88 C886 303.89 888.48 297.69 889.74 294.4 C891 291.1 891.54 289.27 892.31 287.11 C893.09 284.95 893.78 282.99 894.41 281.45 C895.04 279.92 895.45 278.98 896.08 277.89 C896.71 276.81 897.27 275.94 898.18 274.96 C899.09 273.98 900.27 272.87 901.53 272.03 C902.79 271.19 904.46 270.42 905.72 269.93 C906.98 269.45 908.51 269.24 909.07 269.1 L912 262.18 Z" fill="#fff" stroke="none"/>
<path d="M943.49 261.77 C944.32 261.8 946.82 262.25 948.48 261.96 C950.14 261.66 951.69 260.94 953.46 260.02 C955.22 259.11 958.13 257.07 959.06 256.47"/>
<path d="M943.49 261.77 L969.78 277.84"/>
<path d="M954.7 259.59 L976.5 272.67"/>
<path d="M909.07 269.1 L959.38 283.88"/>
<path d="M949.41 246.2 L986.78 268.31 L960.31 283.44"/>
<path d="M949.41 246.2 L949.41 248.94 L983.98 269.74" stroke-width="1.6"/>
<path d="M877.23 241.87 L943.49 261.77"/>
<path d="M912 262.18 L969.03 277.96"/>
<path d="M877.23 241.87 C876.6 241.93 874.93 241.87 873.46 242.28 C871.99 242.7 870.11 243.4 868.43 244.38 C866.76 245.36 864.94 246.75 863.41 248.15 C861.87 249.55 860.4 251.15 859.22 252.76 C858.03 254.36 857.05 256.39 856.28 257.78 C855.52 259.18 855.24 259.6 854.61 261.14 C853.98 262.67 853.59 264.09 852.51 267 C851.44 269.91 849.43 275.13 848.14 278.59 C846.86 282.05 845.64 285.49 844.82 287.74 C844 289.99 843.93 289.85 843.24 292.07 C842.54 294.29 841.25 299 840.66 301.05 C840.06 303.1 839.84 302.99 839.66 304.38 C839.48 305.77 839.48 307.71 839.58 309.37 C839.67 311.03 839.92 312.84 840.24 314.36 C840.56 315.89 841.14 317.52 841.49 318.52 C841.84 319.52 842.18 320.05 842.32 320.35"/>
<path d="M836.08 322.52 C836.22 322.96 836.43 324.18 836.91 325.18 C837.4 326.18 838.09 327.47 838.99 328.51 C839.89 329.55 840.24 330.17 842.32 331.42 C844.4 332.67 848.56 334.54 851.47 335.99 C854.38 337.45 858.41 339.46 859.79 340.15"/>
<path d="M912 262.18 C911.3 262.25 909.35 262.22 907.81 262.6 C906.28 262.99 904.32 263.68 902.79 264.49 C901.25 265.29 899.85 266.37 898.6 267.42 C897.34 268.47 896.22 269.58 895.25 270.77 C894.27 271.96 893.57 273.08 892.73 274.54 C891.89 276.01 890.78 278.52 890.22 279.57 C889.66 280.62 889.87 279.71 889.38 280.83 C888.89 281.94 888.47 283.41 887.29 286.27 C886.1 289.13 883.65 294.5 882.25 297.97 C880.86 301.45 879.74 304.88 878.93 307.12 C878.11 309.37 877.9 309.83 877.35 311.45 C876.79 313.07 876.03 315.36 875.6 316.86 C875.17 318.36 874.93 319.33 874.77 320.44 C874.6 321.55 874.6 321.61 874.6 323.51 C874.6 325.41 874.74 330.45 874.77 331.83"/>
<path d="M909.07 269.1 C908.51 269.24 906.98 269.45 905.72 269.93 C904.46 270.42 902.79 271.19 901.53 272.03 C900.27 272.87 899.09 273.98 898.18 274.96 C897.27 275.94 896.71 276.81 896.08 277.89 C895.45 278.98 895.04 279.92 894.41 281.45 C893.78 282.99 893.09 284.95 892.31 287.11 C891.54 289.27 891 291.1 889.74 294.4 C888.48 297.69 886 303.89 884.75 306.88 C883.5 309.86 882.95 310.34 882.25 312.28 C881.56 314.22 880.9 317 880.59 318.52 C880.29 320.05 880.42 319.77 880.42 321.43 C880.42 323.1 880.56 327.33 880.59 328.51"/>
<path d="M912 262.18 L909.07 269.1"/>
<path d="M877.23 241.87 L912 262.18" stroke-width="1.6"/>
<circle cx="841.16" cy="321.1" r="1.2"/>
<path d="M889.38 280.83 L894.41 281.45"/>
<path d="M877.35 311.45 L882.25 312.28"/>
<path d="M874.77 323.51 L880.42 321.18"/>
<path d="M854.61 261.14 L862.36 264.49"/>
<path d="M881.42 275.8 L889.38 280.83"/>
<path d="M843.24 292.07 L877.35 311.45"/>
<path d="M839.66 304.38 L874.6 323.51"/>
<path d="M905.72 270.69 C905.16 271 903.41 271.87 902.37 272.53 C901.32 273.19 900.2 274 899.43 274.63 C898.67 275.25 898.04 276.02 897.76 276.3" stroke-width="1.9"/>
<path d="M862.36 264.49 C862.67 263.93 863.51 262.39 864.24 261.14 C864.98 259.88 866.06 258.06 866.76 256.95 C867.46 255.83 867.32 255.55 868.43 254.43 C869.55 253.32 871.92 251.36 873.46 250.24 C875 249.13 876.04 248.39 877.65 247.73 C879.26 247.07 881.42 246.33 883.1 246.26 C884.77 246.19 886.24 246.72 887.7 247.31 C889.17 247.9 890.29 248.71 891.89 249.82 C893.5 250.94 896.35 252.83 897.34 254.01 C898.33 255.2 898.05 256.18 897.84 256.95 C897.63 257.71 897.07 257.85 896.08 258.62 C895.09 259.39 893.29 260.44 891.89 261.56 C890.5 262.67 888.68 264.38 887.7 265.33 C886.73 266.27 886.73 266.16 886.03 267.21 C885.33 268.26 884.32 270.14 883.51 271.61 C882.71 273.08 881.84 274.75 881.21 276.01 C880.58 277.27 880.41 278.38 879.74 279.15 C879.08 279.92 878 280.44 877.23 280.62 C876.46 280.79 876.39 280.76 875.14 280.2 C873.88 279.64 871.44 278.24 869.69 277.27 C867.94 276.29 865.78 275.28 864.66 274.33 C863.55 273.39 863.41 272.69 862.99 271.61 C862.57 270.53 862.25 269.03 862.15 267.84 C862.04 266.65 862.32 265.05 862.36 264.49" fill="#fff"/>
<path d="M869.48 263.44 C869.72 262.92 870 261.66 870.95 260.3 C871.89 258.94 873.74 256.74 875.14 255.27 C876.53 253.8 878 252.55 879.33 251.5 C880.65 250.45 881.91 249.58 883.1 248.99 C884.28 248.39 885.89 248.11 886.45 247.94"/>
<path d="M877.23 267.84 C877.37 267.21 877.51 265.47 878.07 264.07 C878.63 262.67 879.53 260.93 880.58 259.46 C881.63 257.99 883.17 256.39 884.35 255.27 C885.54 254.15 886.45 253.42 887.7 252.76 C888.96 252.09 890.95 251.57 891.89 251.29 C892.84 251.01 893.12 251.12 893.36 251.08"/>
<path d="M868.1 255.69 C868.1 256.32 867.87 258.17 868.1 259.46 C868.33 260.75 868.59 262.32 869.48 263.44 C870.37 264.56 872.17 265.47 873.46 266.16 C874.75 266.86 875.83 267.46 877.23 267.63 C878.63 267.8 880.3 267.49 881.84 267.21 C883.38 266.93 884.77 266.91 886.45 265.95 C888.12 265 890.99 262.22 891.89 261.47"/>
<path d="M875.14 249.49 C875.83 249.82 877.72 250.61 879.33 251.5 C880.93 252.39 883.24 253.73 884.77 254.85 C886.31 255.97 887.36 257.1 888.54 258.2 C889.73 259.31 891.34 260.93 891.89 261.47"/>
<path d="M863.49 271.61 C863.58 271.19 863.49 270 864.03 269.1 C864.58 268.19 865.85 267.09 866.76 266.16 C867.67 265.24 869.03 264 869.48 263.57"/>
<path d="M869.48 263.57 C870.14 264 872.24 265.28 873.46 266.16 C874.68 267.05 876.03 267.84 876.81 268.89 C877.59 269.93 877.94 271.3 878.15 272.45 C878.36 273.6 878.29 274.75 878.07 275.8 C877.85 276.85 877.3 278.02 876.81 278.73 C876.32 279.44 875.42 279.85 875.14 280.07"/>
<path d="M897.84 256.95 L902.37 256.74 L904.46 256.95"/>
</g>
<g transform="translate(-63.15 -36.25)">
<path d="M861.55 421.51 L861.55 429 L918.12 396.56 L918.54 388.65Z" fill="#fff" stroke="none"/>
<path d="M814.54 394.48 L861.55 421.51 L918.54 388.65 L871.53 361.61Z" fill="#fff" stroke="none"/>
<path d="M814.54 394.48 L814.54 401.71 L861.55 429 L861.55 421.51Z" fill="#fff" stroke="none"/>
<path d="M861.55 429 L918.12 396.56"/>
<path d="M916.62 391.31 L916.62 397.7"/>
<path d="M917.62 391.01 L917.62 397.1"/>
<path d="M918.54 390.73 L918.54 396.56"/>
<path d="M862.38 367.1 L814.54 394.48 L861.55 421.51 L918.54 388.65"/>
<path d="M814.54 394.48 L814.54 401.71 L861.55 429 L861.55 421.51"/>
<path d="M863.63 384.24 L847.4 393.23 C846.92 393.57 845.12 394.55 844.49 395.31 C843.87 396.07 843.66 396.97 843.66 397.8 C843.66 398.64 843.45 399.33 844.49 400.3 C845.53 401.27 847.89 402.86 849.9 403.63 C851.91 404.39 854.61 404.88 856.56 404.88 C858.5 404.88 860.72 403.84 861.55 403.63 L873.19 396.97"/>
<path d="M845.74 396.14 L845.74 400.3"/>
<path d="M847.24 400.88 L867.37 389.07"/>
</g>
<g transform="translate(0 0)">
<path d="M814.2 325.76 L822.1 330.34 L838.74 319.94 L843.15 331.83 L856.88 343.06 L856.88 351.8 L855.38 352.38 L825.43 369.85 L814.2 351.97Z" fill="#fff" stroke="none"/>
<path d="M793.65 306.46 L819.03 321.02 L868.03 292.96 L851.42 273.38Z" fill="#fff" stroke="none"/>
<path d="M819.03 321.02 L840.24 309.37 L840.24 319.77 L822.1 330.34 L819.03 328.67Z" fill="#fff" stroke="none"/>
<path d="M793.65 306.46 L819.03 321.02 L819.03 328.51 L814.2 325.76 L814.2 351.97 L797.98 344.06 L797.98 316.86 L793.65 314.36Z" fill="#fff" stroke="none"/>
<path d="M797.98 344.06 C798.57 345.08 800.38 348.26 801.56 350.14 C802.73 352.01 803.64 353.46 805.05 355.29 C806.46 357.12 808.1 359.32 810.04 361.12 C811.98 362.92 814.13 364.65 816.7 366.11 C819.26 367.57 823.98 369.23 825.43 369.85 L814.2 351.97 Z" fill="#fff"/>
<path d="M851.42 273.38 L793.65 306.46 L819.03 321.02 L849.98 303.3"/>
<path d="M814.2 325.76 L822.1 330.34 L840.24 319.77"/>
<path d="M793.49 306.46 L793.49 314.36" stroke-width="1.9"/>
<path d="M793.65 314.36 L797.98 316.86 L797.98 344.06 L814.2 351.97"/>
<path d="M818.86 321.02 L818.86 328.26" stroke-width="1.9"/>
<path d="M814.03 325.76 L814.03 351.97" stroke-width="1.8"/>
<path d="M825.43 369.85 L855.38 352.38" stroke-width="1.8"/>
</g>
<g transform="translate(0 0)">
<path d="M943.49 261.77 L948.48 261.89 L953.46 260.02 L959.06 256.47 L984.29 269.37 L986.78 268.31 L960.31 283.44 L969.03 277.96Z" fill="#fff" stroke="none"/>
<path d="M912 262.18 L909.07 269.1 L959.38 283.88 L969.03 277.96Z" fill="#fff" stroke="none"/>
<path d="M877.23 241.87 L943.49 261.77 L969.03 277.96 L912 262.18Z" fill="#fff" stroke="none"/>
<path d="M877.23 241.87 C876.6 241.93 874.93 241.87 873.46 242.28 C871.99 242.7 870.11 243.4 868.43 244.38 C866.76 245.36 864.94 246.75 863.41 248.15 C861.87 249.55 860.4 251.15 859.22 252.76 C858.03 254.36 857.05 256.39 856.28 257.78 C855.52 259.18 855.24 259.6 854.61 261.14 C853.98 262.67 853.59 264.09 852.51 267 C851.44 269.91 849.43 275.13 848.14 278.59 C846.86 282.05 845.64 285.49 844.82 287.74 C844 289.99 843.93 289.85 843.24 292.07 C842.54 294.29 841.25 299 840.66 301.05 C840.06 303.1 839.84 302.99 839.66 304.38 C839.48 305.77 839.48 307.71 839.58 309.37 C839.67 311.03 839.92 312.84 840.24 314.36 C840.56 315.89 841.14 317.52 841.49 318.52 C841.84 319.52 842.18 320.05 842.32 320.35 L836.08 322.52 C836.22 322.96 836.43 324.18 836.91 325.18 C837.4 326.18 838.09 327.47 838.99 328.51 C839.89 329.55 840.24 330.17 842.32 331.42 C844.4 332.67 848.56 334.54 851.47 335.99 C854.38 337.45 858.41 339.46 859.79 340.15 L880.59 328.51 C880.56 327.33 880.42 323.1 880.42 321.43 C880.42 319.77 880.29 320.05 880.59 318.52 C880.9 317 881.56 314.22 882.25 312.28 C882.95 310.34 883.5 309.86 884.75 306.88 C886 303.89 888.48 297.69 889.74 294.4 C891 291.1 891.54 289.27 892.31 287.11 C893.09 284.95 893.78 282.99 894.41 281.45 C895.04 279.92 895.45 278.98 896.08 277.89 C896.71 276.81 897.27 275.94 898.18 274.96 C899.09 273.98 900.27 272.87 901.53 272.03 C902.79 271.19 904.46 270.42 905.72 269.93 C906.98 269.45 908.51 269.24 909.07 269.1 L912 262.18 Z" fill="#fff" stroke="none"/>
<path d="M943.49 261.77 C944.32 261.8 946.82 262.25 948.48 261.96 C950.14 261.66 951.69 260.94 953.46 260.02 C955.22 259.11 958.13 257.07 959.06 256.47"/>
<path d="M943.49 261.77 L969.78 277.84"/>
<path d="M954.7 259.59 L976.5 272.67"/>
<path d="M909.07 269.1 L959.38 283.88"/>
<path d="M949.41 246.2 L986.78 268.31 L960.31 283.44"/>
<path d="M949.41 246.2 L949.41 248.94 L983.98 269.74" stroke-width="1.6"/>
<path d="M877.23 241.87 L943.49 261.77"/>
<path d="M912 262.18 L969.03 277.96"/>
<path d="M877.23 241.87 C876.6 241.93 874.93 241.87 873.46 242.28 C871.99 242.7 870.11 243.4 868.43 244.38 C866.76 245.36 864.94 246.75 863.41 248.15 C861.87 249.55 860.4 251.15 859.22 252.76 C858.03 254.36 857.05 256.39 856.28 257.78 C855.52 259.18 855.24 259.6 854.61 261.14 C853.98 262.67 853.59 264.09 852.51 267 C851.44 269.91 849.43 275.13 848.14 278.59 C846.86 282.05 845.64 285.49 844.82 287.74 C844 289.99 843.93 289.85 843.24 292.07 C842.54 294.29 841.25 299 840.66 301.05 C840.06 303.1 839.84 302.99 839.66 304.38 C839.48 305.77 839.48 307.71 839.58 309.37 C839.67 311.03 839.92 312.84 840.24 314.36 C840.56 315.89 841.14 317.52 841.49 318.52 C841.84 319.52 842.18 320.05 842.32 320.35"/>
<path d="M836.08 322.52 C836.22 322.96 836.43 324.18 836.91 325.18 C837.4 326.18 838.09 327.47 838.99 328.51 C839.89 329.55 840.24 330.17 842.32 331.42 C844.4 332.67 848.56 334.54 851.47 335.99 C854.38 337.45 858.41 339.46 859.79 340.15"/>
<path d="M912 262.18 C911.3 262.25 909.35 262.22 907.81 262.6 C906.28 262.99 904.32 263.68 902.79 264.49 C901.25 265.29 899.85 266.37 898.6 267.42 C897.34 268.47 896.22 269.58 895.25 270.77 C894.27 271.96 893.57 273.08 892.73 274.54 C891.89 276.01 890.78 278.52 890.22 279.57 C889.66 280.62 889.87 279.71 889.38 280.83 C888.89 281.94 888.47 283.41 887.29 286.27 C886.1 289.13 883.65 294.5 882.25 297.97 C880.86 301.45 879.74 304.88 878.93 307.12 C878.11 309.37 877.9 309.83 877.35 311.45 C876.79 313.07 876.03 315.36 875.6 316.86 C875.17 318.36 874.93 319.33 874.77 320.44 C874.6 321.55 874.6 321.61 874.6 323.51 C874.6 325.41 874.74 330.45 874.77 331.83"/>
<path d="M909.07 269.1 C908.51 269.24 906.98 269.45 905.72 269.93 C904.46 270.42 902.79 271.19 901.53 272.03 C900.27 272.87 899.09 273.98 898.18 274.96 C897.27 275.94 896.71 276.81 896.08 277.89 C895.45 278.98 895.04 279.92 894.41 281.45 C893.78 282.99 893.09 284.95 892.31 287.11 C891.54 289.27 891 291.1 889.74 294.4 C888.48 297.69 886 303.89 884.75 306.88 C883.5 309.86 882.95 310.34 882.25 312.28 C881.56 314.22 880.9 317 880.59 318.52 C880.29 320.05 880.42 319.77 880.42 321.43 C880.42 323.1 880.56 327.33 880.59 328.51"/>
<path d="M912 262.18 L909.07 269.1"/>
<path d="M877.23 241.87 L912 262.18" stroke-width="1.6"/>
<circle cx="841.16" cy="321.1" r="1.2"/>
<path d="M889.38 280.83 L894.41 281.45"/>
<path d="M877.35 311.45 L882.25 312.28"/>
<path d="M874.77 323.51 L880.42 321.18"/>
<path d="M854.61 261.14 L862.36 264.49"/>
<path d="M881.42 275.8 L889.38 280.83"/>
<path d="M843.24 292.07 L877.35 311.45"/>
<path d="M839.66 304.38 L874.6 323.51"/>
<path d="M905.72 270.69 C905.16 271 903.41 271.87 902.37 272.53 C901.32 273.19 900.2 274 899.43 274.63 C898.67 275.25 898.04 276.02 897.76 276.3" stroke-width="1.9"/>
<path d="M862.36 264.49 C862.67 263.93 863.51 262.39 864.24 261.14 C864.98 259.88 866.06 258.06 866.76 256.95 C867.46 255.83 867.32 255.55 868.43 254.43 C869.55 253.32 871.92 251.36 873.46 250.24 C875 249.13 876.04 248.39 877.65 247.73 C879.26 247.07 881.42 246.33 883.1 246.26 C884.77 246.19 886.24 246.72 887.7 247.31 C889.17 247.9 890.29 248.71 891.89 249.82 C893.5 250.94 896.35 252.83 897.34 254.01 C898.33 255.2 898.05 256.18 897.84 256.95 C897.63 257.71 897.07 257.85 896.08 258.62 C895.09 259.39 893.29 260.44 891.89 261.56 C890.5 262.67 888.68 264.38 887.7 265.33 C886.73 266.27 886.73 266.16 886.03 267.21 C885.33 268.26 884.32 270.14 883.51 271.61 C882.71 273.08 881.84 274.75 881.21 276.01 C880.58 277.27 880.41 278.38 879.74 279.15 C879.08 279.92 878 280.44 877.23 280.62 C876.46 280.79 876.39 280.76 875.14 280.2 C873.88 279.64 871.44 278.24 869.69 277.27 C867.94 276.29 865.78 275.28 864.66 274.33 C863.55 273.39 863.41 272.69 862.99 271.61 C862.57 270.53 862.25 269.03 862.15 267.84 C862.04 266.65 862.32 265.05 862.36 264.49" fill="#fff"/>
<path d="M869.48 263.44 C869.72 262.92 870 261.66 870.95 260.3 C871.89 258.94 873.74 256.74 875.14 255.27 C876.53 253.8 878 252.55 879.33 251.5 C880.65 250.45 881.91 249.58 883.1 248.99 C884.28 248.39 885.89 248.11 886.45 247.94"/>
<path d="M877.23 267.84 C877.37 267.21 877.51 265.47 878.07 264.07 C878.63 262.67 879.53 260.93 880.58 259.46 C881.63 257.99 883.17 256.39 884.35 255.27 C885.54 254.15 886.45 253.42 887.7 252.76 C888.96 252.09 890.95 251.57 891.89 251.29 C892.84 251.01 893.12 251.12 893.36 251.08"/>
<path d="M868.1 255.69 C868.1 256.32 867.87 258.17 868.1 259.46 C868.33 260.75 868.59 262.32 869.48 263.44 C870.37 264.56 872.17 265.47 873.46 266.16 C874.75 266.86 875.83 267.46 877.23 267.63 C878.63 267.8 880.3 267.49 881.84 267.21 C883.38 266.93 884.77 266.91 886.45 265.95 C888.12 265 890.99 262.22 891.89 261.47"/>
<path d="M875.14 249.49 C875.83 249.82 877.72 250.61 879.33 251.5 C880.93 252.39 883.24 253.73 884.77 254.85 C886.31 255.97 887.36 257.1 888.54 258.2 C889.73 259.31 891.34 260.93 891.89 261.47"/>
<path d="M863.49 271.61 C863.58 271.19 863.49 270 864.03 269.1 C864.58 268.19 865.85 267.09 866.76 266.16 C867.67 265.24 869.03 264 869.48 263.57"/>
<path d="M869.48 263.57 C870.14 264 872.24 265.28 873.46 266.16 C874.68 267.05 876.03 267.84 876.81 268.89 C877.59 269.93 877.94 271.3 878.15 272.45 C878.36 273.6 878.29 274.75 878.07 275.8 C877.85 276.85 877.3 278.02 876.81 278.73 C876.32 279.44 875.42 279.85 875.14 280.07"/>
<path d="M897.84 256.95 L902.37 256.74 L904.46 256.95"/>
</g>
<g transform="translate(0 0)">
<path d="M861.55 421.51 L861.55 429 L918.12 396.56 L918.54 388.65Z" fill="#fff" stroke="none"/>
<path d="M814.54 394.48 L861.55 421.51 L918.54 388.65 L871.53 361.61Z" fill="#fff" stroke="none"/>
<path d="M814.54 394.48 L814.54 401.71 L861.55 429 L861.55 421.51Z" fill="#fff" stroke="none"/>
<path d="M861.55 429 L918.12 396.56"/>
<path d="M916.62 391.31 L916.62 397.7"/>
<path d="M917.62 391.01 L917.62 397.1"/>
<path d="M918.54 390.73 L918.54 396.56"/>
<path d="M862.38 367.1 L814.54 394.48 L861.55 421.51 L918.54 388.65"/>
<path d="M814.54 394.48 L814.54 401.71 L861.55 429 L861.55 421.51"/>
<path d="M863.63 384.24 L847.4 393.23 C846.92 393.57 845.12 394.55 844.49 395.31 C843.87 396.07 843.66 396.97 843.66 397.8 C843.66 398.64 843.45 399.33 844.49 400.3 C845.53 401.27 847.89 402.86 849.9 403.63 C851.91 404.39 854.61 404.88 856.56 404.88 C858.5 404.88 860.72 403.84 861.55 403.63 L873.19 396.97"/>
<path d="M845.74 396.14 L845.74 400.3"/>
<path d="M847.24 400.88 L867.37 389.07"/>
</g>
<g transform="translate(63.15 36.25)">
<path d="M814.2 325.76 L822.1 330.34 L838.74 319.94 L843.15 331.83 L856.88 343.06 L856.88 351.8 L855.38 352.38 L825.43 369.85 L814.2 351.97Z" fill="#fff" stroke="none"/>
<path d="M793.65 306.46 L819.03 321.02 L868.03 292.96 L851.42 273.38Z" fill="#fff" stroke="none"/>
<path d="M819.03 321.02 L840.24 309.37 L840.24 319.77 L822.1 330.34 L819.03 328.67Z" fill="#fff" stroke="none"/>
<path d="M793.65 306.46 L819.03 321.02 L819.03 328.51 L814.2 325.76 L814.2 351.97 L797.98 344.06 L797.98 316.86 L793.65 314.36Z" fill="#fff" stroke="none"/>
<path d="M797.98 344.06 C798.57 345.08 800.38 348.26 801.56 350.14 C802.73 352.01 803.64 353.46 805.05 355.29 C806.46 357.12 808.1 359.32 810.04 361.12 C811.98 362.92 814.13 364.65 816.7 366.11 C819.26 367.57 823.98 369.23 825.43 369.85 L814.2 351.97 Z" fill="#fff"/>
<path d="M851.42 273.38 L793.65 306.46 L819.03 321.02 L849.98 303.3"/>
<path d="M814.2 325.76 L822.1 330.34 L840.24 319.77"/>
<path d="M793.49 306.46 L793.49 314.36" stroke-width="1.9"/>
<path d="M793.65 314.36 L797.98 316.86 L797.98 344.06 L814.2 351.97"/>
<path d="M818.86 321.02 L818.86 328.26" stroke-width="1.9"/>
<path d="M814.03 325.76 L814.03 351.97" stroke-width="1.8"/>
<path d="M825.43 369.85 L855.38 352.38" stroke-width="1.8"/>
</g>
<g transform="translate(63.15 36.25)">
<path d="M943.49 261.77 L948.48 261.89 L953.46 260.02 L959.06 256.47 L984.29 269.37 L986.78 268.31 L960.31 283.44 L969.03 277.96Z" fill="#fff" stroke="none"/>
<path d="M912 262.18 L909.07 269.1 L959.38 283.88 L969.03 277.96Z" fill="#fff" stroke="none"/>
<path d="M877.23 241.87 L943.49 261.77 L969.03 277.96 L912 262.18Z" fill="#fff" stroke="none"/>
<path d="M877.23 241.87 C876.6 241.93 874.93 241.87 873.46 242.28 C871.99 242.7 870.11 243.4 868.43 244.38 C866.76 245.36 864.94 246.75 863.41 248.15 C861.87 249.55 860.4 251.15 859.22 252.76 C858.03 254.36 857.05 256.39 856.28 257.78 C855.52 259.18 855.24 259.6 854.61 261.14 C853.98 262.67 853.59 264.09 852.51 267 C851.44 269.91 849.43 275.13 848.14 278.59 C846.86 282.05 845.64 285.49 844.82 287.74 C844 289.99 843.93 289.85 843.24 292.07 C842.54 294.29 841.25 299 840.66 301.05 C840.06 303.1 839.84 302.99 839.66 304.38 C839.48 305.77 839.48 307.71 839.58 309.37 C839.67 311.03 839.92 312.84 840.24 314.36 C840.56 315.89 841.14 317.52 841.49 318.52 C841.84 319.52 842.18 320.05 842.32 320.35 L836.08 322.52 C836.22 322.96 836.43 324.18 836.91 325.18 C837.4 326.18 838.09 327.47 838.99 328.51 C839.89 329.55 840.24 330.17 842.32 331.42 C844.4 332.67 848.56 334.54 851.47 335.99 C854.38 337.45 858.41 339.46 859.79 340.15 L880.59 328.51 C880.56 327.33 880.42 323.1 880.42 321.43 C880.42 319.77 880.29 320.05 880.59 318.52 C880.9 317 881.56 314.22 882.25 312.28 C882.95 310.34 883.5 309.86 884.75 306.88 C886 303.89 888.48 297.69 889.74 294.4 C891 291.1 891.54 289.27 892.31 287.11 C893.09 284.95 893.78 282.99 894.41 281.45 C895.04 279.92 895.45 278.98 896.08 277.89 C896.71 276.81 897.27 275.94 898.18 274.96 C899.09 273.98 900.27 272.87 901.53 272.03 C902.79 271.19 904.46 270.42 905.72 269.93 C906.98 269.45 908.51 269.24 909.07 269.1 L912 262.18 Z" fill="#fff" stroke="none"/>
<path d="M943.49 261.77 C944.32 261.8 946.82 262.25 948.48 261.96 C950.14 261.66 951.69 260.94 953.46 260.02 C955.22 259.11 958.13 257.07 959.06 256.47"/>
<path d="M943.49 261.77 L969.78 277.84"/>
<path d="M954.7 259.59 L976.5 272.67"/>
<path d="M909.07 269.1 L959.38 283.88"/>
<path d="M949.41 246.2 L986.78 268.31 L960.31 283.44"/>
<path d="M949.41 246.2 L949.41 248.94 L983.98 269.74" stroke-width="1.6"/>
<path d="M877.23 241.87 L943.49 261.77"/>
<path d="M912 262.18 L969.03 277.96"/>
<path d="M877.23 241.87 C876.6 241.93 874.93 241.87 873.46 242.28 C871.99 242.7 870.11 243.4 868.43 244.38 C866.76 245.36 864.94 246.75 863.41 248.15 C861.87 249.55 860.4 251.15 859.22 252.76 C858.03 254.36 857.05 256.39 856.28 257.78 C855.52 259.18 855.24 259.6 854.61 261.14 C853.98 262.67 853.59 264.09 852.51 267 C851.44 269.91 849.43 275.13 848.14 278.59 C846.86 282.05 845.64 285.49 844.82 287.74 C844 289.99 843.93 289.85 843.24 292.07 C842.54 294.29 841.25 299 840.66 301.05 C840.06 303.1 839.84 302.99 839.66 304.38 C839.48 305.77 839.48 307.71 839.58 309.37 C839.67 311.03 839.92 312.84 840.24 314.36 C840.56 315.89 841.14 317.52 841.49 318.52 C841.84 319.52 842.18 320.05 842.32 320.35"/>
<path d="M836.08 322.52 C836.22 322.96 836.43 324.18 836.91 325.18 C837.4 326.18 838.09 327.47 838.99 328.51 C839.89 329.55 840.24 330.17 842.32 331.42 C844.4 332.67 848.56 334.54 851.47 335.99 C854.38 337.45 858.41 339.46 859.79 340.15"/>
<path d="M912 262.18 C911.3 262.25 909.35 262.22 907.81 262.6 C906.28 262.99 904.32 263.68 902.79 264.49 C901.25 265.29 899.85 266.37 898.6 267.42 C897.34 268.47 896.22 269.58 895.25 270.77 C894.27 271.96 893.57 273.08 892.73 274.54 C891.89 276.01 890.78 278.52 890.22 279.57 C889.66 280.62 889.87 279.71 889.38 280.83 C888.89 281.94 888.47 283.41 887.29 286.27 C886.1 289.13 883.65 294.5 882.25 297.97 C880.86 301.45 879.74 304.88 878.93 307.12 C878.11 309.37 877.9 309.83 877.35 311.45 C876.79 313.07 876.03 315.36 875.6 316.86 C875.17 318.36 874.93 319.33 874.77 320.44 C874.6 321.55 874.6 321.61 874.6 323.51 C874.6 325.41 874.74 330.45 874.77 331.83"/>
<path d="M909.07 269.1 C908.51 269.24 906.98 269.45 905.72 269.93 C904.46 270.42 902.79 271.19 901.53 272.03 C900.27 272.87 899.09 273.98 898.18 274.96 C897.27 275.94 896.71 276.81 896.08 277.89 C895.45 278.98 895.04 279.92 894.41 281.45 C893.78 282.99 893.09 284.95 892.31 287.11 C891.54 289.27 891 291.1 889.74 294.4 C888.48 297.69 886 303.89 884.75 306.88 C883.5 309.86 882.95 310.34 882.25 312.28 C881.56 314.22 880.9 317 880.59 318.52 C880.29 320.05 880.42 319.77 880.42 321.43 C880.42 323.1 880.56 327.33 880.59 328.51"/>
<path d="M912 262.18 L909.07 269.1"/>
<path d="M877.23 241.87 L912 262.18" stroke-width="1.6"/>
<circle cx="841.16" cy="321.1" r="1.2"/>
<path d="M889.38 280.83 L894.41 281.45"/>
<path d="M877.35 311.45 L882.25 312.28"/>
<path d="M874.77 323.51 L880.42 321.18"/>
<path d="M854.61 261.14 L862.36 264.49"/>
<path d="M881.42 275.8 L889.38 280.83"/>
<path d="M843.24 292.07 L877.35 311.45"/>
<path d="M839.66 304.38 L874.6 323.51"/>
<path d="M905.72 270.69 C905.16 271 903.41 271.87 902.37 272.53 C901.32 273.19 900.2 274 899.43 274.63 C898.67 275.25 898.04 276.02 897.76 276.3" stroke-width="1.9"/>
<path d="M862.36 264.49 C862.67 263.93 863.51 262.39 864.24 261.14 C864.98 259.88 866.06 258.06 866.76 256.95 C867.46 255.83 867.32 255.55 868.43 254.43 C869.55 253.32 871.92 251.36 873.46 250.24 C875 249.13 876.04 248.39 877.65 247.73 C879.26 247.07 881.42 246.33 883.1 246.26 C884.77 246.19 886.24 246.72 887.7 247.31 C889.17 247.9 890.29 248.71 891.89 249.82 C893.5 250.94 896.35 252.83 897.34 254.01 C898.33 255.2 898.05 256.18 897.84 256.95 C897.63 257.71 897.07 257.85 896.08 258.62 C895.09 259.39 893.29 260.44 891.89 261.56 C890.5 262.67 888.68 264.38 887.7 265.33 C886.73 266.27 886.73 266.16 886.03 267.21 C885.33 268.26 884.32 270.14 883.51 271.61 C882.71 273.08 881.84 274.75 881.21 276.01 C880.58 277.27 880.41 278.38 879.74 279.15 C879.08 279.92 878 280.44 877.23 280.62 C876.46 280.79 876.39 280.76 875.14 280.2 C873.88 279.64 871.44 278.24 869.69 277.27 C867.94 276.29 865.78 275.28 864.66 274.33 C863.55 273.39 863.41 272.69 862.99 271.61 C862.57 270.53 862.25 269.03 862.15 267.84 C862.04 266.65 862.32 265.05 862.36 264.49" fill="#fff"/>
<path d="M869.48 263.44 C869.72 262.92 870 261.66 870.95 260.3 C871.89 258.94 873.74 256.74 875.14 255.27 C876.53 253.8 878 252.55 879.33 251.5 C880.65 250.45 881.91 249.58 883.1 248.99 C884.28 248.39 885.89 248.11 886.45 247.94"/>
<path d="M877.23 267.84 C877.37 267.21 877.51 265.47 878.07 264.07 C878.63 262.67 879.53 260.93 880.58 259.46 C881.63 257.99 883.17 256.39 884.35 255.27 C885.54 254.15 886.45 253.42 887.7 252.76 C888.96 252.09 890.95 251.57 891.89 251.29 C892.84 251.01 893.12 251.12 893.36 251.08"/>
<path d="M868.1 255.69 C868.1 256.32 867.87 258.17 868.1 259.46 C868.33 260.75 868.59 262.32 869.48 263.44 C870.37 264.56 872.17 265.47 873.46 266.16 C874.75 266.86 875.83 267.46 877.23 267.63 C878.63 267.8 880.3 267.49 881.84 267.21 C883.38 266.93 884.77 266.91 886.45 265.95 C888.12 265 890.99 262.22 891.89 261.47"/>
<path d="M875.14 249.49 C875.83 249.82 877.72 250.61 879.33 251.5 C880.93 252.39 883.24 253.73 884.77 254.85 C886.31 255.97 887.36 257.1 888.54 258.2 C889.73 259.31 891.34 260.93 891.89 261.47"/>
<path d="M863.49 271.61 C863.58 271.19 863.49 270 864.03 269.1 C864.58 268.19 865.85 267.09 866.76 266.16 C867.67 265.24 869.03 264 869.48 263.57"/>
<path d="M869.48 263.57 C870.14 264 872.24 265.28 873.46 266.16 C874.68 267.05 876.03 267.84 876.81 268.89 C877.59 269.93 877.94 271.3 878.15 272.45 C878.36 273.6 878.29 274.75 878.07 275.8 C877.85 276.85 877.3 278.02 876.81 278.73 C876.32 279.44 875.42 279.85 875.14 280.07"/>
<path d="M897.84 256.95 L902.37 256.74 L904.46 256.95"/>
</g>
<g transform="translate(63.15 36.25)">
<path d="M861.55 421.51 L861.55 429 L918.12 396.56 L918.54 388.65Z" fill="#fff" stroke="none"/>
<path d="M814.54 394.48 L861.55 421.51 L918.54 388.65 L871.53 361.61Z" fill="#fff" stroke="none"/>
<path d="M814.54 394.48 L814.54 401.71 L861.55 429 L861.55 421.51Z" fill="#fff" stroke="none"/>
<path d="M861.55 429 L918.12 396.56"/>
<path d="M916.62 391.31 L916.62 397.7"/>
<path d="M917.62 391.01 L917.62 397.1"/>
<path d="M918.54 390.73 L918.54 396.56"/>
<path d="M862.38 367.1 L814.54 394.48 L861.55 421.51 L918.54 388.65"/>
<path d="M814.54 394.48 L814.54 401.71 L861.55 429 L861.55 421.51"/>
<path d="M863.63 384.24 L847.4 393.23 C846.92 393.57 845.12 394.55 844.49 395.31 C843.87 396.07 843.66 396.97 843.66 397.8 C843.66 398.64 843.45 399.33 844.49 400.3 C845.53 401.27 847.89 402.86 849.9 403.63 C851.91 404.39 854.61 404.88 856.56 404.88 C858.5 404.88 860.72 403.84 861.55 403.63 L873.19 396.97"/>
<path d="M845.74 396.14 L845.74 400.3"/>
<path d="M847.24 400.88 L867.37 389.07"/>
</g>
<g transform="translate(126.3 72.5)">
<path d="M814.2 325.76 L822.1 330.34 L838.74 319.94 L843.15 331.83 L856.88 343.06 L856.88 351.8 L855.38 352.38 L825.43 369.85 L814.2 351.97Z" fill="#fff" stroke="none"/>
<path d="M793.65 306.46 L819.03 321.02 L868.03 292.96 L851.42 273.38Z" fill="#fff" stroke="none"/>
<path d="M819.03 321.02 L840.24 309.37 L840.24 319.77 L822.1 330.34 L819.03 328.67Z" fill="#fff" stroke="none"/>
<path d="M793.65 306.46 L819.03 321.02 L819.03 328.51 L814.2 325.76 L814.2 351.97 L797.98 344.06 L797.98 316.86 L793.65 314.36Z" fill="#fff" stroke="none"/>
<path d="M797.98 344.06 C798.57 345.08 800.38 348.26 801.56 350.14 C802.73 352.01 803.64 353.46 805.05 355.29 C806.46 357.12 808.1 359.32 810.04 361.12 C811.98 362.92 814.13 364.65 816.7 366.11 C819.26 367.57 823.98 369.23 825.43 369.85 L814.2 351.97 Z" fill="#fff"/>
<path d="M851.42 273.38 L793.65 306.46 L819.03 321.02 L849.98 303.3"/>
<path d="M814.2 325.76 L822.1 330.34 L840.24 319.77"/>
<path d="M793.49 306.46 L793.49 314.36" stroke-width="1.9"/>
<path d="M793.65 314.36 L797.98 316.86 L797.98 344.06 L814.2 351.97"/>
<path d="M818.86 321.02 L818.86 328.26" stroke-width="1.9"/>
<path d="M814.03 325.76 L814.03 351.97" stroke-width="1.8"/>
<path d="M825.43 369.85 L855.38 352.38" stroke-width="1.8"/>
</g>
<g transform="translate(126.3 72.5)">
<path d="M943.49 261.77 L948.48 261.89 L953.46 260.02 L959.06 256.47 L984.29 269.37 L986.78 268.31 L960.31 283.44 L969.03 277.96Z" fill="#fff" stroke="none"/>
<path d="M912 262.18 L909.07 269.1 L959.38 283.88 L969.03 277.96Z" fill="#fff" stroke="none"/>
<path d="M877.23 241.87 L943.49 261.77 L969.03 277.96 L912 262.18Z" fill="#fff" stroke="none"/>
<path d="M877.23 241.87 C876.6 241.93 874.93 241.87 873.46 242.28 C871.99 242.7 870.11 243.4 868.43 244.38 C866.76 245.36 864.94 246.75 863.41 248.15 C861.87 249.55 860.4 251.15 859.22 252.76 C858.03 254.36 857.05 256.39 856.28 257.78 C855.52 259.18 855.24 259.6 854.61 261.14 C853.98 262.67 853.59 264.09 852.51 267 C851.44 269.91 849.43 275.13 848.14 278.59 C846.86 282.05 845.64 285.49 844.82 287.74 C844 289.99 843.93 289.85 843.24 292.07 C842.54 294.29 841.25 299 840.66 301.05 C840.06 303.1 839.84 302.99 839.66 304.38 C839.48 305.77 839.48 307.71 839.58 309.37 C839.67 311.03 839.92 312.84 840.24 314.36 C840.56 315.89 841.14 317.52 841.49 318.52 C841.84 319.52 842.18 320.05 842.32 320.35 L836.08 322.52 C836.22 322.96 836.43 324.18 836.91 325.18 C837.4 326.18 838.09 327.47 838.99 328.51 C839.89 329.55 840.24 330.17 842.32 331.42 C844.4 332.67 848.56 334.54 851.47 335.99 C854.38 337.45 858.41 339.46 859.79 340.15 L880.59 328.51 C880.56 327.33 880.42 323.1 880.42 321.43 C880.42 319.77 880.29 320.05 880.59 318.52 C880.9 317 881.56 314.22 882.25 312.28 C882.95 310.34 883.5 309.86 884.75 306.88 C886 303.89 888.48 297.69 889.74 294.4 C891 291.1 891.54 289.27 892.31 287.11 C893.09 284.95 893.78 282.99 894.41 281.45 C895.04 279.92 895.45 278.98 896.08 277.89 C896.71 276.81 897.27 275.94 898.18 274.96 C899.09 273.98 900.27 272.87 901.53 272.03 C902.79 271.19 904.46 270.42 905.72 269.93 C906.98 269.45 908.51 269.24 909.07 269.1 L912 262.18 Z" fill="#fff" stroke="none"/>
<path d="M943.49 261.77 C944.32 261.8 946.82 262.25 948.48 261.96 C950.14 261.66 951.69 260.94 953.46 260.02 C955.22 259.11 958.13 257.07 959.06 256.47"/>
<path d="M943.49 261.77 L969.78 277.84"/>
<path d="M954.7 259.59 L976.5 272.67"/>
<path d="M909.07 269.1 L959.38 283.88"/>
<path d="M949.41 246.2 L986.78 268.31 L960.31 283.44"/>
<path d="M949.41 246.2 L949.41 248.94 L983.98 269.74" stroke-width="1.6"/>
<path d="M877.23 241.87 L943.49 261.77"/>
<path d="M912 262.18 L969.03 277.96"/>
<path d="M877.23 241.87 C876.6 241.93 874.93 241.87 873.46 242.28 C871.99 242.7 870.11 243.4 868.43 244.38 C866.76 245.36 864.94 246.75 863.41 248.15 C861.87 249.55 860.4 251.15 859.22 252.76 C858.03 254.36 857.05 256.39 856.28 257.78 C855.52 259.18 855.24 259.6 854.61 261.14 C853.98 262.67 853.59 264.09 852.51 267 C851.44 269.91 849.43 275.13 848.14 278.59 C846.86 282.05 845.64 285.49 844.82 287.74 C844 289.99 843.93 289.85 843.24 292.07 C842.54 294.29 841.25 299 840.66 301.05 C840.06 303.1 839.84 302.99 839.66 304.38 C839.48 305.77 839.48 307.71 839.58 309.37 C839.67 311.03 839.92 312.84 840.24 314.36 C840.56 315.89 841.14 317.52 841.49 318.52 C841.84 319.52 842.18 320.05 842.32 320.35"/>
<path d="M836.08 322.52 C836.22 322.96 836.43 324.18 836.91 325.18 C837.4 326.18 838.09 327.47 838.99 328.51 C839.89 329.55 840.24 330.17 842.32 331.42 C844.4 332.67 848.56 334.54 851.47 335.99 C854.38 337.45 858.41 339.46 859.79 340.15"/>
<path d="M912 262.18 C911.3 262.25 909.35 262.22 907.81 262.6 C906.28 262.99 904.32 263.68 902.79 264.49 C901.25 265.29 899.85 266.37 898.6 267.42 C897.34 268.47 896.22 269.58 895.25 270.77 C894.27 271.96 893.57 273.08 892.73 274.54 C891.89 276.01 890.78 278.52 890.22 279.57 C889.66 280.62 889.87 279.71 889.38 280.83 C888.89 281.94 888.47 283.41 887.29 286.27 C886.1 289.13 883.65 294.5 882.25 297.97 C880.86 301.45 879.74 304.88 878.93 307.12 C878.11 309.37 877.9 309.83 877.35 311.45 C876.79 313.07 876.03 315.36 875.6 316.86 C875.17 318.36 874.93 319.33 874.77 320.44 C874.6 321.55 874.6 321.61 874.6 323.51 C874.6 325.41 874.74 330.45 874.77 331.83"/>
<path d="M909.07 269.1 C908.51 269.24 906.98 269.45 905.72 269.93 C904.46 270.42 902.79 271.19 901.53 272.03 C900.27 272.87 899.09 273.98 898.18 274.96 C897.27 275.94 896.71 276.81 896.08 277.89 C895.45 278.98 895.04 279.92 894.41 281.45 C893.78 282.99 893.09 284.95 892.31 287.11 C891.54 289.27 891 291.1 889.74 294.4 C888.48 297.69 886 303.89 884.75 306.88 C883.5 309.86 882.95 310.34 882.25 312.28 C881.56 314.22 880.9 317 880.59 318.52 C880.29 320.05 880.42 319.77 880.42 321.43 C880.42 323.1 880.56 327.33 880.59 328.51"/>
<path d="M912 262.18 L909.07 269.1"/>
<path d="M877.23 241.87 L912 262.18" stroke-width="1.6"/>
<circle cx="841.16" cy="321.1" r="1.2"/>
<path d="M889.38 280.83 L894.41 281.45"/>
<path d="M877.35 311.45 L882.25 312.28"/>
<path d="M874.77 323.51 L880.42 321.18"/>
<path d="M854.61 261.14 L862.36 264.49"/>
<path d="M881.42 275.8 L889.38 280.83"/>
<path d="M843.24 292.07 L877.35 311.45"/>
<path d="M839.66 304.38 L874.6 323.51"/>
<path d="M905.72 270.69 C905.16 271 903.41 271.87 902.37 272.53 C901.32 273.19 900.2 274 899.43 274.63 C898.67 275.25 898.04 276.02 897.76 276.3" stroke-width="1.9"/>
<path d="M862.36 264.49 C862.67 263.93 863.51 262.39 864.24 261.14 C864.98 259.88 866.06 258.06 866.76 256.95 C867.46 255.83 867.32 255.55 868.43 254.43 C869.55 253.32 871.92 251.36 873.46 250.24 C875 249.13 876.04 248.39 877.65 247.73 C879.26 247.07 881.42 246.33 883.1 246.26 C884.77 246.19 886.24 246.72 887.7 247.31 C889.17 247.9 890.29 248.71 891.89 249.82 C893.5 250.94 896.35 252.83 897.34 254.01 C898.33 255.2 898.05 256.18 897.84 256.95 C897.63 257.71 897.07 257.85 896.08 258.62 C895.09 259.39 893.29 260.44 891.89 261.56 C890.5 262.67 888.68 264.38 887.7 265.33 C886.73 266.27 886.73 266.16 886.03 267.21 C885.33 268.26 884.32 270.14 883.51 271.61 C882.71 273.08 881.84 274.75 881.21 276.01 C880.58 277.27 880.41 278.38 879.74 279.15 C879.08 279.92 878 280.44 877.23 280.62 C876.46 280.79 876.39 280.76 875.14 280.2 C873.88 279.64 871.44 278.24 869.69 277.27 C867.94 276.29 865.78 275.28 864.66 274.33 C863.55 273.39 863.41 272.69 862.99 271.61 C862.57 270.53 862.25 269.03 862.15 267.84 C862.04 266.65 862.32 265.05 862.36 264.49" fill="#fff"/>
<path d="M869.48 263.44 C869.72 262.92 870 261.66 870.95 260.3 C871.89 258.94 873.74 256.74 875.14 255.27 C876.53 253.8 878 252.55 879.33 251.5 C880.65 250.45 881.91 249.58 883.1 248.99 C884.28 248.39 885.89 248.11 886.45 247.94"/>
<path d="M877.23 267.84 C877.37 267.21 877.51 265.47 878.07 264.07 C878.63 262.67 879.53 260.93 880.58 259.46 C881.63 257.99 883.17 256.39 884.35 255.27 C885.54 254.15 886.45 253.42 887.7 252.76 C888.96 252.09 890.95 251.57 891.89 251.29 C892.84 251.01 893.12 251.12 893.36 251.08"/>
<path d="M868.1 255.69 C868.1 256.32 867.87 258.17 868.1 259.46 C868.33 260.75 868.59 262.32 869.48 263.44 C870.37 264.56 872.17 265.47 873.46 266.16 C874.75 266.86 875.83 267.46 877.23 267.63 C878.63 267.8 880.3 267.49 881.84 267.21 C883.38 266.93 884.77 266.91 886.45 265.95 C888.12 265 890.99 262.22 891.89 261.47"/>
<path d="M875.14 249.49 C875.83 249.82 877.72 250.61 879.33 251.5 C880.93 252.39 883.24 253.73 884.77 254.85 C886.31 255.97 887.36 257.1 888.54 258.2 C889.73 259.31 891.34 260.93 891.89 261.47"/>
<path d="M863.49 271.61 C863.58 271.19 863.49 270 864.03 269.1 C864.58 268.19 865.85 267.09 866.76 266.16 C867.67 265.24 869.03 264 869.48 263.57"/>
<path d="M869.48 263.57 C870.14 264 872.24 265.28 873.46 266.16 C874.68 267.05 876.03 267.84 876.81 268.89 C877.59 269.93 877.94 271.3 878.15 272.45 C878.36 273.6 878.29 274.75 878.07 275.8 C877.85 276.85 877.3 278.02 876.81 278.73 C876.32 279.44 875.42 279.85 875.14 280.07"/>
<path d="M897.84 256.95 L902.37 256.74 L904.46 256.95"/>
</g>
<g transform="translate(126.3 72.5)">
<path d="M861.55 421.51 L861.55 429 L918.12 396.56 L918.54 388.65Z" fill="#fff" stroke="none"/>
<path d="M814.54 394.48 L861.55 421.51 L918.54 388.65 L871.53 361.61Z" fill="#fff" stroke="none"/>
<path d="M814.54 394.48 L814.54 401.71 L861.55 429 L861.55 421.51Z" fill="#fff" stroke="none"/>
<path d="M861.55 429 L918.12 396.56"/>
<path d="M916.62 391.31 L916.62 397.7"/>
<path d="M917.62 391.01 L917.62 397.1"/>
<path d="M918.54 390.73 L918.54 396.56"/>
<path d="M862.38 367.1 L814.54 394.48 L861.55 421.51 L918.54 388.65"/>
<path d="M814.54 394.48 L814.54 401.71 L861.55 429 L861.55 421.51"/>
<path d="M863.63 384.24 L847.4 393.23 C846.92 393.57 845.12 394.55 844.49 395.31 C843.87 396.07 843.66 396.97 843.66 397.8 C843.66 398.64 843.45 399.33 844.49 400.3 C845.53 401.27 847.89 402.86 849.9 403.63 C851.91 404.39 854.61 404.88 856.56 404.88 C858.5 404.88 860.72 403.84 861.55 403.63 L873.19 396.97"/>
<path d="M845.74 396.14 L845.74 400.3"/>
<path d="M847.24 400.88 L867.37 389.07"/>
</g>
<path d="M994.48 422.88 L1198.1 304.5 L1198.1 388 L1088.49 449.5 L1088.49 429.12 L1008.62 476.12 L994.48 458.24Z" fill="#fff" stroke="none"/>
<path d="M1088.49 429.12 L1088.49 449.5 L1071.43 439.52Z" fill="#fff" stroke="none"/>
<path d="M1071.43 439.52 L1088.49 449.5 L1198.1 388"/>
<path d="M1088.49 429.12 L1088.49 449.5"/>
<path d="M1008.62 476.12 L1088.49 429.12"/>
<path d="M1074.76 437.85 L1084.58 432.61 L1084.58 441.35Z" stroke-width="1.8"/>
<path d="M1134.75 423 L1135.62 424.5"/>
<path d="M982 415.81 L994.48 422.88 L1198.1 304.5 L1111.88 340.62Z" fill="#fff" stroke="none"/>
<path d="M1111.88 340.62 L982 415.81 L994.48 422.88 L1198.1 304.5"/>
<path d="M982 415.81 L994.48 422.88 L994.48 458.24 L986.57 452 L986.57 424.96 L982 422.88Z" fill="#fff" stroke="none"/>
<path d="M981.83 415.81 L981.83 422.88" stroke-width="2"/>
<path d="M982 422.88 L986.57 424.96 L986.57 452 L994.48 458.24"/>
<path d="M994.48 422.88 L994.48 458.24"/>
<path d="M986.57 452 C987.4 453.31 989.62 457.2 991.56 459.9 C993.51 462.6 996.28 466 998.22 468.22 C1000.16 470.44 1001.48 471.89 1003.21 473.21 C1004.94 474.53 1007.72 475.64 1008.62 476.12 L994.48 458.24 Z" fill="#fff"/>
<path d="M1041.9 461.98 L1041.9 469.22"/>
<path d="M1043.31 461.15 L1043.31 468.39"/>
<path d="M1044.81 455.07 L1044.81 461.73"/>
<path d="M1046.47 454.08 L1046.47 459.48 L1053.96 455.32"/>
<path d="M1053.96 451.58 L1053.96 455.32"/>
<path d="M1053.96 455.32 C1054.72 454.59 1057.01 452.72 1058.54 450.92 C1060.06 449.11 1062.35 445.58 1063.11 444.51"/>
</g>
</svg></body></html>
